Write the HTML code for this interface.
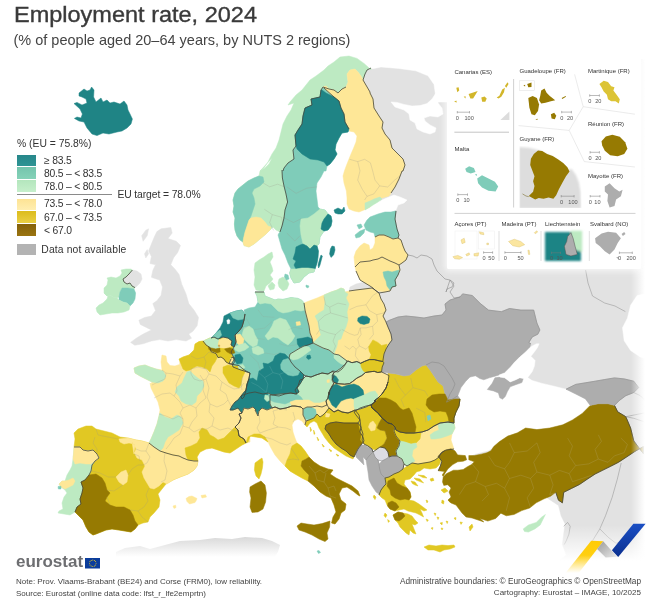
<!DOCTYPE html>
<html><head><meta charset="utf-8">
<style>
html,body{margin:0;padding:0;background:#fff;}
body{width:650px;height:606px;overflow:hidden;position:relative;font-family:"Liberation Sans",sans-serif;color:#333;}
#map{position:absolute;left:0;top:0;width:650px;height:606px;}
.t{position:absolute;white-space:nowrap;line-height:1;}
#title{left:13.5px;top:4.8px;font-size:21.5px;color:#3a3a3a;transform:scaleX(1.093);transform-origin:0 0;-webkit-text-stroke:0.35px #3a3a3a;}
#sub{left:13.5px;top:33.4px;font-size:14.5px;color:#444;}
.lg{font-size:10.35px;color:#333;}
.sw{position:absolute;left:17px;width:19.4px;height:11.5px;}
.ft{font-size:8px;color:#444;}
.ft2{font-size:8.25px;color:#444;}
#es{left:15.5px;top:553.2px;font-size:16.3px;font-weight:bold;color:#6d6e71;transform:scaleX(1.045);transform-origin:0 0;}
</style></head><body>
<svg id="map" viewBox="0 0 650 606" width="650" height="606">
<!--MAP-->
<path d="M161.1,228.8 170.8,227.5 172.2,233.0 168.0,238.5 176.3,241.3 180.5,245.5 177.7,252.4 173.5,257.9 170.8,264.8 174.9,269.0 179.1,274.5 181.8,284.2 186.0,293.9 188.8,303.6 194.3,310.5 198.5,317.5 197.1,325.8 192.9,331.3 188.8,334.1 191.5,338.2 186.0,341.0 176.3,339.6 168.0,341.0 159.7,339.6 151.4,341.0 143.1,343.8 134.8,345.2 130.6,342.4 136.2,338.2 143.1,334.1 151.4,329.9 145.8,327.2 140.3,324.4 138.9,320.2 144.5,317.5 151.4,316.1 155.5,310.5 152.8,303.6 156.9,300.8 161.1,295.3 162.5,287.0 159.7,280.1 155.5,278.7 151.4,277.3 152.8,270.4 155.5,264.8 150.0,263.5 151.4,256.5 148.6,251.0 151.4,244.1 154.2,237.2 156.9,231.6Z" fill="#e2e2e2" stroke="#e2e2e2" stroke-width="0.5" stroke-linejoin="round"/>
<path d="M144.5,253.8 147.2,249.6 148.6,253.8 145.8,257.9Z" fill="#e2e2e2" stroke="#e2e2e2" stroke-width="0.5" stroke-linejoin="round"/>
<path d="M141.7,235.8 145.8,230.2 148.6,228.8 147.2,235.8 143.1,241.3Z" fill="#e2e2e2" stroke="#e2e2e2" stroke-width="0.5" stroke-linejoin="round"/>
<path d="M132.4,270.0 137.0,271.0 141.0,274.0 142.0,279.0 140.0,283.0 136.0,287.0 135.0,287.6 132.0,286.0 130.0,283.0 127.0,284.0 124.0,282.0 123.0,279.0 126.0,277.0 129.0,274.0Z" fill="#e2e2e2" stroke="#e2e2e2" stroke-width="0.5" stroke-linejoin="round"/>
<path d="M349.0,291.0 350.0,287.0 356.0,284.0 364.0,282.0 370.0,282.0 372.0,288.0 364.0,289.0 356.0,290.0Z" fill="#e2e2e2" stroke="#e2e2e2" stroke-width="0.5" stroke-linejoin="round"/>
<path d="M373.0,452.0 377.0,449.0 380.0,447.0 385.0,448.0 388.0,452.0 389.0,457.0 386.0,459.0 382.0,461.0 378.0,460.0 375.0,457.0Z" fill="#dcdce2" stroke="#dcdce2" stroke-width="0.5" stroke-linejoin="round"/>
<path d="M362.0,72.0 364.0,65.0 436.0,65.0 447.0,60.0 650.0,58.0 650.0,560.0 560.0,560.0 566.3,555.1 562.4,544.6 563.7,534.2 565.0,523.7 561.1,515.8 558.5,505.4 520.0,480.0 440.0,440.0 385.0,345.0 378.0,300.0 380.0,200.0Z" fill="#e2e2e2" stroke="#e2e2e2" stroke-width="0.5" stroke-linejoin="round"/>
<defs><linearGradient id="gaf" gradientUnits="userSpaceOnUse" x1="0" y1="537" x2="0" y2="557"><stop offset="0" stop-color="#d9d9d9"/><stop offset="1" stop-color="#ffffff"/></linearGradient></defs>
<path d="M116.0,552.0 125.0,548.0 140.0,546.0 150.0,549.0 165.0,545.0 180.0,541.0 200.0,540.0 215.0,538.0 232.0,539.0 245.0,537.0 262.0,538.0 272.0,541.0 280.0,545.0 278.0,552.0 274.0,558.0 116.0,558.0Z" fill="url(#gaf)"/>
<path d="M391.0,102.0 395.0,107.0 404.0,110.0 409.0,114.0 410.0,120.0 415.0,123.0 417.0,129.0 423.0,132.0 430.0,134.0 435.0,132.0 436.0,128.0 430.0,125.0 425.0,121.0 424.0,118.0 430.0,116.0 438.0,117.0 443.0,114.0 442.0,108.0 438.0,103.0 439.0,97.0 443.0,90.0 447.0,87.0 447.0,80.0 444.4,70.0 440.4,59.0 435.6,59.0 439.0,66.0 441.6,76.0 440.0,86.0 436.0,93.0 432.0,99.0 427.0,103.6 420.0,105.6 412.0,106.0 404.0,104.4 397.0,102.4Z" fill="#ffffff" stroke="#ffffff" stroke-width="0.5" stroke-linejoin="round"/>
<path d="M362.0,211.0 370.0,208.0 376.0,204.0 382.0,200.0 389.0,197.0 394.0,195.0 400.0,197.0 407.0,200.0 404.0,203.0 398.0,205.0 396.0,210.0 391.0,212.0 385.0,212.0 378.0,214.0 370.0,217.0 362.0,221.0Z" fill="#ffffff" stroke="#ffffff" stroke-width="0.5" stroke-linejoin="round"/>
<path d="M461.0,387.6 465.8,381.2 470.7,376.3 483.6,377.0 499.8,373.1 514.3,373.1 525.6,376.3 532.1,380.5 542.1,383.4 553.1,386.0 566.0,389.2 575.7,394.1 585.4,398.9 590.2,405.4 582.2,413.5 572.5,419.9 562.8,424.8 549.8,428.0 536.9,429.6 525.6,428.0 517.5,432.8 507.8,436.1 498.2,444.2 488.5,450.6 475.5,453.8 464.2,458.7 452.9,450.6 446.5,436.1 448.1,423.2 451.3,411.8 452.9,398.9 452.9,389.2Z" fill="#ffffff" stroke="#ffffff" stroke-width="0.5" stroke-linejoin="round"/>
<path d="M659.7,290.7 637.1,295.5 630.6,305.2 627.4,318.2 622.5,327.8 624.2,340.8 630.6,350.5 640.3,356.9 659.7,363.4Z" fill="#ffffff" stroke="#ffffff" stroke-width="0.5" stroke-linejoin="round"/>
<path d="M362.0,50.0 362.0,70.0 366.0,69.3 374.0,68.4 381.0,67.0 398.5,68.4 415.7,70.8 428.0,75.8 434.0,84.4 435.4,94.0 432.0,102.0 447.0,102.0 447.0,59.0 650.0,59.0 650.0,50.0Z" fill="#ffffff" stroke="#ffffff" stroke-width="0.5" stroke-linejoin="round"/>
<path d="M203.7,340.8 210.0,337.9 216.9,338.5 223.9,337.9 229.7,339.1 233.1,342.0 232.2,345.4 234.0,349.5 235.2,352.9 233.4,355.8 234.0,357.6 231.0,359.3 230.6,363.3 228.5,363.3 225.0,360.4 221.0,358.1 217.5,356.4 215.8,352.4 212.3,351.2 208.9,349.5 206.6,344.9Z" fill="#e1c823" stroke="#e1c823" stroke-width="0.5" stroke-linejoin="round"/>
<path d="M230.8,359.3 234.0,357.6 235.7,361.0 234.0,364.5 231.0,363.7Z" fill="#fee797" stroke="#fee797" stroke-width="0.5" stroke-linejoin="round"/>
<path d="M79.0,93.0 84.0,89.0 87.0,91.0 90.0,90.0 91.6,87.0 94.0,90.0 93.6,97.0 96.0,102.0 101.0,98.0 103.0,102.0 107.0,100.0 110.0,103.0 114.0,102.0 120.0,104.0 124.0,101.0 127.0,105.0 128.0,110.0 130.0,114.0 132.4,119.0 131.0,124.0 127.0,128.0 122.0,131.0 117.0,132.0 109.0,134.0 103.0,133.0 97.0,135.6 92.0,134.0 87.0,128.0 84.0,122.0 79.0,121.0 74.4,118.4 77.0,117.0 81.0,118.0 82.4,114.0 80.0,109.0 74.0,103.6 77.0,102.4 82.0,105.0 87.0,103.0 86.0,99.0 82.0,97.0 79.0,96.0Z" fill="#1f8485" stroke="#1f8485" stroke-width="0.5" stroke-linejoin="round"/>
<path d="M371.0,70.0 368.0,67.0 364.0,63.4 357.0,58.4 349.0,56.0 340.0,57.0 334.0,62.0 328.0,66.0 324.0,70.0 320.0,73.0 316.0,76.0 310.0,80.0 306.0,85.0 302.0,90.0 296.0,95.0 290.0,102.0 288.0,105.0 294.0,103.0 291.0,110.0 287.0,116.0 283.0,124.0 281.0,132.0 279.0,140.0 276.0,148.0 272.0,154.0 268.0,162.0 264.0,168.0 260.0,171.0 272.0,158.0 269.0,164.0 265.0,168.0 260.0,171.0 259.0,176.0 254.0,178.0 248.0,181.0 243.0,185.0 238.0,189.0 235.0,193.0 233.0,200.0 234.0,206.0 233.0,212.0 235.0,218.0 234.4,224.0 235.0,230.0 237.0,236.0 240.0,240.0 243.0,242.0 244.0,245.6 249.0,247.0 254.0,244.0 260.0,239.0 266.0,234.0 270.0,230.0 273.0,227.0 276.0,230.0 280.0,232.0 280.0,232.0 282.0,226.0 284.0,218.0 285.0,210.0 287.6,202.0 286.0,194.0 284.0,186.0 282.4,178.0 282.0,170.0 283.0,171.0 284.0,168.0 288.0,163.0 294.0,159.0 293.0,150.0 296.0,146.0 295.0,135.0 298.0,130.0 302.0,124.0 303.0,116.0 305.0,108.0 312.0,105.0 311.0,99.0 320.0,97.0 321.0,90.0 323.0,87.0 326.0,86.0 329.0,89.0 334.0,90.0 338.0,93.0 342.0,89.0 346.0,87.0 348.0,82.0 347.0,74.0 350.0,70.0 355.0,69.0 358.0,72.0 361.0,76.0 363.0,80.0 365.0,74.0 367.0,70.0 371.0,68.0Z" fill="#bdeac2" stroke="#bdeac2" stroke-width="0.5" stroke-linejoin="round"/>
<path d="M324.0,88.0 334.0,97.0 339.0,101.0 341.0,108.0 344.0,114.0 345.0,122.0 349.0,129.0 348.0,132.0 342.0,133.0 339.0,138.0 336.0,144.0 335.0,150.0 337.0,154.0 334.0,159.0 330.0,164.0 327.0,166.0 326.0,171.0 324.0,171.0 321.0,177.0 317.0,183.0 316.0,191.0 317.0,199.0 318.0,207.0 320.0,209.0 325.0,210.0 328.0,214.0 331.0,216.0 332.0,221.0 331.0,226.0 328.0,230.0 324.0,231.0 320.0,237.0 319.0,244.0 317.0,246.0 318.4,251.0 318.0,257.0 317.0,263.0 315.0,269.0 314.0,272.0 309.0,273.0 304.0,277.0 300.0,282.0 294.0,283.0 291.0,278.0 289.6,273.0 291.0,269.0 288.0,263.0 285.0,255.0 282.0,249.0 280.0,242.0 278.0,235.0 279.0,233.0 280.0,232.0 282.0,226.0 284.0,218.0 285.0,210.0 287.6,202.0 286.0,194.0 284.0,186.0 282.4,178.0 282.0,170.0 283.0,171.0 284.0,168.0 288.0,163.0 294.0,159.0 293.0,150.0 296.0,146.0 295.0,135.0 298.0,130.0 302.0,124.0 303.0,116.0 305.0,108.0 312.0,105.0 311.0,99.0 320.0,97.0 321.0,90.0 323.0,87.0Z" fill="#7fccb9" stroke="#7fccb9" stroke-width="0.5" stroke-linejoin="round"/>
<path d="M255.0,263.0 259.0,260.0 264.0,257.0 268.0,254.0 272.0,252.0 273.0,257.0 270.0,262.0 272.0,267.0 273.0,271.0 270.0,275.0 273.0,279.0 270.0,283.0 266.0,286.0 264.0,291.0 260.0,291.0 256.0,290.0 254.0,285.0 255.0,277.0 254.0,270.0Z" fill="#bdeac2" stroke="#bdeac2" stroke-width="0.5" stroke-linejoin="round"/>
<path d="M268.0,286.0 272.0,282.0 275.0,285.0 274.0,289.0 270.0,290.0Z" fill="#bdeac2" stroke="#bdeac2" stroke-width="0.5" stroke-linejoin="round"/>
<path d="M279.0,279.0 283.0,277.0 287.0,280.0 289.0,284.0 287.0,289.0 283.0,291.0 279.0,287.0 278.0,283.0Z" fill="#bdeac2" stroke="#bdeac2" stroke-width="0.5" stroke-linejoin="round"/>
<path d="M323.0,87.0 326.0,86.0 329.0,89.0 334.0,90.0 338.0,93.0 342.0,89.0 346.0,87.0 348.0,82.0 347.0,74.0 350.0,70.0 355.0,69.0 358.0,72.0 361.0,76.0 363.0,80.0 370.0,92.0 370.0,93.0 373.0,99.0 374.0,108.0 379.0,116.0 383.0,122.0 382.0,128.0 385.0,134.0 390.0,140.0 392.0,148.0 398.0,154.0 403.0,159.0 405.0,165.0 403.0,171.0 402.0,171.0 399.0,179.0 395.0,187.0 391.0,193.0 389.0,196.0 382.0,198.0 376.0,200.0 370.0,207.0 370.0,207.0 364.0,210.0 359.0,212.0 354.0,211.0 349.0,209.0 347.0,204.0 347.0,198.0 346.4,191.0 344.0,183.0 343.0,176.0 344.4,171.0 344.4,171.0 346.6,165.0 349.0,159.0 351.0,154.0 353.6,148.0 356.0,142.0 357.0,136.0 354.0,132.0 349.0,131.0 349.0,129.0 345.0,122.0 344.0,114.0 341.0,108.0 339.0,101.0 334.0,97.0 324.0,88.0Z" fill="#fee797" stroke="#fee797" stroke-width="0.5" stroke-linejoin="round"/>
<path d="M370.0,217.0 378.0,214.0 385.0,212.0 391.0,212.0 396.0,211.0 395.0,219.0 397.0,229.0 399.0,235.0 398.0,238.0 393.0,239.0 389.0,237.0 384.0,235.0 379.0,235.0 375.0,237.0 374.0,233.0 370.0,232.0 366.0,230.0 364.0,225.0 367.0,220.0Z" fill="#7fccb9" stroke="#7fccb9" stroke-width="0.5" stroke-linejoin="round"/>
<path d="M357.0,225.0 361.0,224.0 362.4,227.0 359.0,229.0Z" fill="#7fccb9" stroke="#7fccb9" stroke-width="0.5" stroke-linejoin="round"/>
<path d="M355.0,235.0 360.0,231.0 365.0,229.0 364.0,233.0 360.0,237.0 356.0,238.0Z" fill="#7fccb9" stroke="#7fccb9" stroke-width="0.5" stroke-linejoin="round"/>
<path d="M375.0,237.0 379.0,235.0 384.0,235.0 389.0,237.0 393.0,239.0 398.0,238.0 401.0,240.0 403.0,246.0 405.0,251.0 408.0,255.0 406.0,260.0 402.0,263.0 399.0,265.0 395.0,263.0 390.0,261.0 386.0,259.0 382.0,257.0 378.0,259.0 373.0,260.0 370.0,261.0 360.0,262.0 355.0,267.0 354.0,257.0 356.0,251.0 360.0,246.0 364.0,243.0 369.0,245.0 370.0,250.0 373.0,248.0 375.0,243.0Z" fill="#fee797" stroke="#fee797" stroke-width="0.5" stroke-linejoin="round"/>
<path d="M370.0,261.0 373.0,260.0 378.0,259.0 382.0,257.0 386.0,259.0 390.0,261.0 395.0,263.0 399.0,265.0 400.0,270.0 398.0,275.0 395.0,280.0 396.0,286.0 392.0,287.0 390.0,291.0 385.0,292.0 378.0,291.0 370.0,286.0 360.0,280.0 356.0,271.0 355.0,267.0 360.0,262.0Z" fill="#fee797" stroke="#fee797" stroke-width="0.5" stroke-linejoin="round"/>
<path d="M121.0,270.0 126.0,269.0 131.0,269.0 132.4,270.0 129.0,274.0 126.0,277.0 123.0,279.0 124.0,282.0 127.0,284.0 130.0,283.0 132.0,286.0 135.0,287.6 134.0,289.0 128.0,288.0 122.0,288.0 120.0,292.0 119.0,297.0 117.0,298.0 113.0,297.0 110.0,295.0 107.0,296.0 104.0,293.0 104.0,288.0 107.0,285.0 108.0,280.0 107.0,278.0 111.0,277.0 116.0,278.0 120.0,276.0 122.0,273.0Z" fill="#bdeac2" stroke="#bdeac2" stroke-width="0.5" stroke-linejoin="round"/>
<path d="M122.0,288.0 128.0,288.0 134.0,289.0 135.6,293.0 135.0,299.0 133.0,303.0 130.0,306.0 127.0,303.0 123.0,302.0 119.0,300.0 119.0,297.0 120.0,292.0Z" fill="#7fccb9" stroke="#7fccb9" stroke-width="0.5" stroke-linejoin="round"/>
<path d="M104.0,293.0 107.0,296.0 110.0,295.0 113.0,297.0 117.0,298.0 119.0,300.0 123.0,302.0 127.0,303.0 130.0,306.0 129.0,310.0 124.0,312.0 118.0,313.0 112.0,313.0 106.0,314.0 100.0,315.0 97.0,312.0 96.0,308.0 99.0,305.0 103.0,303.0 107.0,299.0 108.0,296.0Z" fill="#bdeac2" stroke="#bdeac2" stroke-width="0.5" stroke-linejoin="round"/>
<path d="M203.0,341.0 206.0,345.0 210.0,347.6 211.0,351.6 216.0,353.6 218.0,357.6 221.0,357.0 224.0,359.0 226.0,362.0 229.0,363.6 233.0,364.4 239.0,365.6 243.0,369.0 246.0,371.0 250.0,373.0 249.0,378.0 247.0,385.0 245.6,392.0 244.0,397.0 242.0,399.0 241.0,396.0 238.0,400.0 235.0,402.0 232.0,406.0 230.0,410.0 233.0,410.0 238.0,408.0 242.0,413.0 239.0,414.0 241.0,418.0 239.0,423.0 235.0,427.0 238.0,430.0 239.0,436.0 244.0,439.0 246.0,443.0 242.0,445.0 236.0,449.0 230.0,453.0 224.0,452.0 218.0,450.0 212.0,448.0 206.0,449.0 200.0,452.0 197.0,457.0 198.0,461.0 194.0,461.0 188.0,460.0 183.0,458.0 179.0,456.0 173.0,455.0 166.0,453.0 160.0,451.0 154.0,447.0 149.0,443.0 151.0,439.0 154.0,432.0 157.0,424.0 159.0,416.0 160.0,410.0 158.0,402.0 154.0,394.0 151.0,388.0 150.0,383.0 151.0,384.0 152.0,382.0 146.0,379.0 140.0,376.0 135.0,373.0 134.0,368.0 139.0,366.0 145.0,365.0 150.0,367.0 156.0,369.0 162.0,370.0 161.0,362.0 162.0,355.0 166.0,356.0 167.0,362.0 170.0,365.6 175.0,366.0 179.6,364.4 180.0,359.0 183.0,357.0 189.0,355.0 194.0,350.0 195.0,344.0 199.0,341.6Z" fill="#fee797" stroke="#fee797" stroke-width="0.5" stroke-linejoin="round"/>
<path d="M255.0,463.0 259.0,460.0 262.0,458.0 263.0,462.0 262.4,468.0 261.0,474.0 259.0,479.0 256.0,476.0 254.4,470.0Z" fill="#e1c823" stroke="#e1c823" stroke-width="0.5" stroke-linejoin="round"/>
<path d="M203.7,340.8 210.0,337.9 216.9,338.5 219.3,339.7 218.1,344.3 219.8,347.7 215.8,348.9 210.0,347.7 206.6,344.9Z" fill="#bdeac2" stroke="#bdeac2" stroke-width="0.5" stroke-linejoin="round"/>
<path d="M219.3,339.7 223.9,337.9 229.7,339.1 233.1,342.0 232.0,345.4 229.7,347.7 225.0,348.3 219.8,347.7 218.1,344.3Z" fill="#fee797" stroke="#fee797" stroke-width="0.5" stroke-linejoin="round"/>
<path d="M219.0,349.0 225.0,349.0 226.0,352.0 229.0,354.0 231.0,359.0 229.0,363.6 226.0,362.0 224.0,359.0 221.0,357.0 218.0,357.6 217.0,354.4 220.0,352.0Z" fill="#e1c823" stroke="#e1c823" stroke-width="0.5" stroke-linejoin="round"/>
<path d="M231.0,358.0 234.0,357.0 235.0,361.0 233.0,364.4 229.0,363.6Z" fill="#fee797" stroke="#fee797" stroke-width="0.5" stroke-linejoin="round"/>
<path d="M224.0,316.0 230.0,313.0 236.0,311.0 242.0,310.0 245.0,314.0 244.0,320.0 242.0,327.0 239.0,331.0 235.0,335.0 236.0,342.0 234.0,347.0 231.0,345.0 232.0,341.0 228.0,338.0 223.0,337.0 218.0,339.0 214.0,337.0 211.0,338.0 216.0,333.0 220.0,328.0 223.0,322.0Z" fill="#1f8485" stroke="#1f8485" stroke-width="0.5" stroke-linejoin="round"/>
<path d="M255.0,292.0 264.0,292.0 265.0,296.0 270.0,298.0 275.0,300.0 278.0,299.0 283.0,299.4 291.0,297.6 298.0,298.4 302.0,300.4 304.0,303.0 305.0,310.0 307.0,318.0 309.0,326.0 310.0,333.0 312.0,338.0 313.0,343.0 308.0,345.0 304.0,346.0 300.0,348.0 295.0,351.0 290.0,354.0 289.0,358.0 291.0,362.0 295.0,367.0 300.0,371.0 304.0,375.0 303.0,379.0 300.0,384.0 297.0,388.0 299.0,392.0 296.0,394.0 291.0,393.0 285.0,394.0 279.0,396.0 272.0,395.0 268.0,393.0 263.0,394.0 255.0,392.0 249.0,393.0 243.0,395.0 241.0,396.0 246.0,390.0 247.0,384.0 249.0,379.0 250.0,373.0 244.0,371.0 238.0,369.0 233.0,367.0 232.0,363.0 234.0,360.0 233.0,356.0 231.0,352.0 234.0,347.0 236.0,342.0 235.0,335.0 239.0,331.0 242.0,327.0 244.0,320.0 245.0,314.0 244.0,310.0 249.0,308.0 255.0,307.0 258.0,302.0 257.0,296.0Z" fill="#7fccb9" stroke="#7fccb9" stroke-width="0.5" stroke-linejoin="round"/>
<path d="M230.0,410.0 232.0,406.0 235.0,402.0 238.0,400.0 241.0,396.0 241.0,396.0 243.0,395.0 249.0,393.0 255.0,392.0 263.0,394.0 268.0,393.0 270.0,394.4 270.4,400.0 272.4,404.0 272.0,408.0 267.0,410.0 262.0,408.0 259.0,411.0 258.0,416.0 255.0,410.0 250.0,408.0 256.0,410.0 253.0,407.0 248.0,409.0 244.0,408.0 242.0,413.0 238.0,408.0 233.0,410.0Z" fill="#1f8485" stroke="#1f8485" stroke-width="0.5" stroke-linejoin="round"/>
<path d="M290.0,354.0 295.0,351.0 300.0,348.0 304.0,346.0 308.0,345.0 313.0,343.0 317.0,345.0 323.0,348.0 329.0,350.0 334.0,354.0 339.0,355.0 343.0,358.0 347.0,361.0 345.0,365.0 342.0,369.0 338.0,372.0 333.0,371.0 328.0,374.0 322.0,373.0 316.0,375.0 311.0,377.0 306.0,376.0 304.0,375.0 300.0,371.0 295.0,367.0 291.0,362.0 289.0,358.0Z" fill="#7fccb9" stroke="#7fccb9" stroke-width="0.5" stroke-linejoin="round"/>
<path d="M304.0,303.0 309.0,301.0 317.0,298.0 324.0,295.0 331.0,292.0 337.0,290.0 341.0,288.0 344.0,289.0 345.0,292.0 349.0,291.0 356.0,290.0 364.0,289.0 372.0,288.0 375.0,290.0 379.0,293.0 381.0,299.0 384.0,304.0 386.0,310.0 383.0,316.0 386.0,322.0 388.0,327.0 391.0,334.0 392.0,340.0 389.0,344.0 386.0,349.0 384.0,354.0 383.0,360.0 382.8,361.5 379.1,360.8 374.2,359.6 369.2,359.6 364.3,361.5 360.6,363.3 356.9,361.5 352.0,362.7 348.1,361.1 347.0,361.0 343.0,358.0 339.0,355.0 334.0,354.0 329.0,350.0 323.0,348.0 317.0,345.0 313.0,343.0 312.0,338.0 310.0,333.0 309.0,326.0 307.0,318.0 305.0,310.0Z" fill="#fee797" stroke="#fee797" stroke-width="0.5" stroke-linejoin="round"/>
<path d="M270.0,395.0 280.0,394.0 290.0,393.0 297.0,394.0 295.0,390.0 298.0,386.0 300.0,380.0 303.0,379.0 306.0,376.0 311.0,377.0 316.0,375.0 322.0,373.0 328.0,374.0 333.0,371.0 334.0,376.0 332.0,380.0 334.0,384.0 330.0,390.0 329.0,395.0 329.0,392.0 328.0,398.0 326.0,401.0 327.0,405.0 322.0,407.0 317.0,406.0 312.0,407.0 307.0,407.0 303.0,409.0 301.0,407.0 295.0,406.0 292.0,406.0 286.0,408.0 280.0,409.0 275.0,407.0 272.0,408.0 270.0,404.0 270.0,400.0Z" fill="#bdeac2" stroke="#bdeac2" stroke-width="0.5" stroke-linejoin="round"/>
<path d="M348.1,361.1 352.0,362.7 356.9,361.5 360.6,363.3 364.3,361.5 369.2,359.6 374.2,359.6 379.1,360.8 382.8,361.5 384.0,362.7 382.2,367.0 381.5,371.9 377.8,372.5 374.2,371.3 369.2,371.9 365.5,372.5 361.8,375.6 356.9,378.1 352.6,381.5 349.5,383.6 344.6,384.2 337.2,383.6 334.2,382.4 332.3,379.3 332.3,375.0 333.5,373.2 337.2,370.7 340.9,368.2 344.6,364.5Z" fill="#bdeac2" stroke="#bdeac2" stroke-width="0.5" stroke-linejoin="round"/>
<path d="M327.0,405.0 326.0,401.0 328.0,398.0 329.0,392.0 332.0,386.0 334.2,382.4 337.2,383.6 344.6,384.2 349.5,383.6 352.6,381.5 356.9,378.1 361.8,375.6 365.5,372.5 369.2,371.9 374.2,371.3 377.8,372.5 381.5,371.9 389.0,375.5 388.0,382.0 386.0,388.0 382.0,394.0 378.0,398.0 374.0,401.0 376.0,401.0 371.0,405.0 372.0,404.0 366.0,407.0 360.0,409.0 355.0,410.0 353.0,411.0 348.0,413.0 342.0,412.0 338.0,410.0 334.0,412.0 329.0,408.0Z" fill="#fee797" stroke="#fee797" stroke-width="0.5" stroke-linejoin="round"/>
<path d="M303.0,409.0 307.0,407.0 312.0,407.0 316.0,409.0 317.0,414.0 314.0,418.0 309.0,420.0 305.0,419.0 303.0,415.0Z" fill="#7fccb9" stroke="#7fccb9" stroke-width="0.5" stroke-linejoin="round"/>
<path d="M312.0,407.0 317.0,406.0 322.0,407.0 327.0,405.0 329.0,408.0 326.0,412.0 323.0,415.0 320.0,417.0 317.0,414.0 316.0,409.0Z" fill="#fee797" stroke="#fee797" stroke-width="0.5" stroke-linejoin="round"/>
<path d="M329.0,408.0 334.0,412.0 338.0,410.0 342.0,412.0 348.0,413.0 353.0,411.0 355.0,410.0 359.0,415.0 360.0,420.0 358.0,423.0 352.0,423.0 344.0,423.0 336.0,422.0 330.0,423.0 326.0,425.0 325.0,429.0 329.0,434.0 332.0,439.0 336.0,444.0 341.0,448.0 346.0,451.0 350.0,455.0 354.0,457.0 353.0,459.0 346.0,456.0 340.0,452.0 334.0,448.0 329.0,443.0 325.0,438.0 322.0,433.0 319.0,428.0 317.0,423.0 314.0,421.0 310.0,423.0 307.0,427.0 305.0,425.0 306.0,421.0 309.0,420.0 314.0,418.0 317.0,414.0 320.0,417.0 323.0,415.0 326.0,412.0Z" fill="#e1c823" stroke="#e1c823" stroke-width="0.5" stroke-linejoin="round"/>
<path d="M326.0,425.0 330.0,423.0 336.0,422.0 344.0,423.0 352.0,423.0 358.0,423.0 361.0,427.0 360.0,432.0 363.0,437.0 364.0,441.0 361.0,445.0 358.0,449.0 356.0,453.0 354.0,457.0 350.0,455.0 346.0,451.0 341.0,448.0 336.0,444.0 332.0,439.0 329.0,434.0 325.0,429.0Z" fill="#967a02" stroke="#967a02" stroke-width="0.5" stroke-linejoin="round"/>
<path d="M360.0,408.0 366.0,406.0 371.0,405.0 372.0,408.0 378.0,413.0 382.0,418.0 379.0,423.0 377.0,428.0 380.0,430.0 385.0,431.0 387.0,438.0 384.0,444.0 380.0,447.0 376.0,450.0 372.0,449.0 368.0,446.0 364.0,444.0 360.6,440.0 361.6,434.0 359.6,428.0 358.4,420.0 354.4,415.0 352.4,412.0Z" fill="#e1c823" stroke="#e1c823" stroke-width="0.5" stroke-linejoin="round"/>
<path d="M379.0,423.0 382.0,418.0 388.0,423.0 392.0,424.0 395.0,427.0 394.0,431.0 396.0,436.0 400.0,441.0 399.0,446.0 396.0,451.0 397.0,456.0 392.0,456.0 389.0,457.0 388.0,452.0 385.0,448.0 380.0,447.0 384.0,444.0 387.0,438.0 385.0,431.0 380.0,430.0 377.0,428.0Z" fill="#967a02" stroke="#967a02" stroke-width="0.5" stroke-linejoin="round"/>
<path d="M358.0,449.0 361.0,445.0 365.0,445.0 369.0,448.0 368.0,446.0 372.0,449.0 373.0,452.0 369.0,456.0 366.0,460.0 363.0,457.0 364.0,465.0 360.0,461.0 356.0,457.0 356.0,453.0Z" fill="#adadad" stroke="#adadad" stroke-width="0.5" stroke-linejoin="round"/>
<path d="M366.0,460.0 369.0,456.0 373.0,452.0 375.0,457.0 378.0,460.0 379.0,464.0 379.6,469.0 381.0,474.0 385.0,478.0 386.0,484.0 384.0,490.0 380.0,495.0 376.0,492.0 372.0,486.0 369.0,480.0 368.0,472.0 367.0,466.0Z" fill="#adadad" stroke="#adadad" stroke-width="0.5" stroke-linejoin="round"/>
<path d="M379.0,464.0 382.0,461.0 386.0,459.0 389.0,457.0 392.0,456.0 397.0,456.0 402.0,459.0 404.0,464.0 403.0,469.0 399.0,472.0 394.0,474.0 389.0,477.0 385.0,478.0 381.0,474.0 379.6,469.0Z" fill="#adadad" stroke="#adadad" stroke-width="0.5" stroke-linejoin="round"/>
<path d="M246.0,443.0 244.0,439.0 239.0,436.0 238.0,430.0 235.0,427.0 239.0,423.0 241.0,418.0 239.0,414.0 242.0,413.0 244.0,408.0 248.0,409.0 253.0,407.0 256.0,410.0 255.0,410.0 258.0,416.0 259.0,411.0 262.0,408.0 267.0,410.0 272.0,408.0 275.0,407.0 280.0,409.0 286.0,408.0 292.0,406.0 295.0,406.0 301.0,407.0 303.0,409.0 303.0,415.0 305.0,419.0 306.0,421.0 305.0,425.0 302.0,421.0 298.0,419.0 294.0,421.0 292.0,425.0 293.0,432.0 295.0,438.0 297.0,443.0 301.0,446.0 305.0,451.0 309.0,457.0 314.0,462.0 320.0,466.0 328.0,469.0 333.0,470.0 330.0,474.0 336.0,478.0 344.0,482.0 352.0,486.0 358.0,491.0 360.0,496.0 358.0,495.0 353.0,491.0 347.0,487.0 342.0,488.0 339.0,494.0 341.0,500.0 346.0,504.0 345.0,510.0 341.0,513.0 339.0,519.0 335.0,524.0 331.6,523.0 333.0,517.0 336.0,512.0 334.0,505.0 331.0,498.0 326.0,496.0 320.0,492.0 314.0,486.0 308.0,481.0 302.0,478.0 295.0,474.0 290.0,471.0 285.0,466.0 280.0,461.0 275.0,455.0 271.0,448.0 268.0,442.0 262.0,438.0 256.0,437.0 250.0,436.0 250.0,442.0Z" fill="#fee797" stroke="#fee797" stroke-width="0.5" stroke-linejoin="round"/>
<path d="M250.0,487.0 255.0,484.0 261.0,481.0 265.0,485.0 266.4,493.0 265.6,502.0 263.0,509.0 258.0,512.0 252.0,512.4 250.0,507.0 251.0,498.0 249.6,492.0Z" fill="#967a02" stroke="#967a02" stroke-width="0.5" stroke-linejoin="round"/>
<path d="M297.0,526.0 301.0,523.0 307.0,524.0 314.0,525.0 322.0,523.6 330.0,521.0 329.6,527.0 327.0,533.0 328.0,539.0 325.0,541.6 319.0,539.0 312.0,535.0 305.0,532.0 299.0,530.0Z" fill="#967a02" stroke="#967a02" stroke-width="0.5" stroke-linejoin="round"/>
<path d="M74.0,433.0 78.0,429.0 86.0,426.0 92.0,426.0 96.0,429.0 104.0,431.0 112.0,433.0 120.0,437.0 128.0,438.0 136.0,440.0 142.0,441.0 149.0,443.0 154.0,447.0 160.0,451.0 166.0,453.0 173.0,455.0 179.0,456.0 183.0,458.0 188.0,460.0 194.0,461.0 198.0,461.0 197.0,466.0 194.0,470.0 188.0,474.0 180.0,477.0 173.0,480.0 166.0,484.0 162.0,489.0 158.0,494.0 160.0,500.0 159.0,507.0 154.0,513.0 150.0,517.0 148.0,522.0 143.0,523.0 138.0,525.0 135.0,529.0 131.0,532.0 125.0,531.0 119.0,530.0 112.0,529.0 106.0,530.0 101.0,532.0 96.0,534.0 93.0,535.0 89.0,532.0 86.0,527.0 83.0,520.0 78.0,515.0 75.0,512.0 77.0,507.0 81.0,504.0 80.0,499.0 82.0,493.0 83.0,488.0 81.0,482.0 85.0,480.0 89.0,475.0 91.0,471.0 92.0,465.0 95.0,461.0 99.0,458.0 97.0,454.0 93.0,450.0 88.0,451.0 83.0,450.0 80.0,447.0 74.0,447.0 75.0,439.0Z" fill="#e1c823" stroke="#e1c823" stroke-width="0.5" stroke-linejoin="round"/>
<path d="M186.0,498.5 189.0,496.5 192.0,496.0 197.0,498.5 196.0,501.0 195.0,502.5 189.5,504.0 187.0,501.5Z" fill="#fee797" stroke="#fee797" stroke-width="0.5" stroke-linejoin="round"/>
<path d="M201.0,495.5 205.5,494.8 206.5,497.0 202.0,498.0Z" fill="#fee797" stroke="#fee797" stroke-width="0.5" stroke-linejoin="round"/>
<path d="M173.0,506.0 175.6,505.2 176.0,507.6 174.0,508.4Z" fill="#fee797" stroke="#fee797" stroke-width="0.5" stroke-linejoin="round"/>
<path d="M74.0,447.0 80.0,447.0 83.0,450.0 88.0,451.0 93.0,450.0 97.0,454.0 99.0,458.0 95.0,461.0 92.0,465.0 91.0,471.0 89.0,475.0 85.0,480.0 81.0,482.0 83.0,488.0 82.0,493.0 80.0,499.0 81.0,504.0 77.0,507.0 75.0,512.0 70.0,515.0 64.0,514.0 58.0,513.0 59.0,511.0 63.0,509.0 62.0,503.0 64.0,497.0 67.0,493.0 65.0,490.0 61.0,487.0 59.0,484.0 62.0,481.0 65.0,481.0 67.0,475.0 70.0,470.0 72.0,466.0 73.0,459.0 73.6,453.0Z" fill="#bdeac2" stroke="#bdeac2" stroke-width="0.5" stroke-linejoin="round"/>
<path d="M388.4,379.0 388.0,373.0 396.0,374.0 404.0,376.0 410.0,375.0 416.0,370.0 422.0,366.0 426.0,365.0 430.0,370.0 434.0,376.0 438.0,382.0 443.0,386.0 445.0,394.0 448.0,400.0 455.0,399.0 460.0,399.0 459.0,406.0 456.0,412.0 454.0,418.0 454.0,423.0 448.0,422.0 440.0,423.0 434.0,426.0 428.0,430.0 422.0,432.0 414.0,433.0 406.0,433.0 400.0,432.0 396.0,430.0 395.0,427.0 392.0,424.0 388.0,423.0 382.0,418.0 378.0,413.0 372.0,408.0 371.0,405.0 376.0,401.0 374.0,401.0 378.0,398.0 382.0,394.0 386.0,388.0 388.0,382.0Z" fill="#e1c823" stroke="#e1c823" stroke-width="0.5" stroke-linejoin="round"/>
<path d="M395.0,427.0 396.0,430.0 400.0,432.0 406.0,433.0 414.0,433.0 422.0,432.0 428.0,430.0 434.0,426.0 440.0,423.0 448.0,422.0 454.0,423.0 455.0,428.0 452.0,434.0 451.0,440.0 453.0,446.0 454.0,449.0 446.0,450.0 441.0,453.0 439.0,457.0 435.0,460.0 430.0,462.0 424.0,463.0 418.0,464.0 412.0,463.0 407.0,466.0 404.0,464.0 402.0,459.0 397.0,456.0 396.0,451.0 399.0,446.0 400.0,441.0 396.0,436.0 394.0,431.0Z" fill="#fee797" stroke="#fee797" stroke-width="0.5" stroke-linejoin="round"/>
<path d="M385.0,478.0 389.0,477.0 394.0,474.0 399.0,472.0 403.0,469.0 407.0,466.0 412.0,463.0 418.0,464.0 424.0,463.0 430.0,462.0 435.0,460.0 439.0,457.0 441.0,461.0 439.0,465.0 436.0,468.0 430.0,469.0 424.0,468.0 420.0,471.0 415.0,472.0 410.0,474.0 418.0,470.0 414.0,475.0 410.0,479.0 405.0,480.0 404.0,484.0 407.0,488.0 410.0,492.0 411.0,497.0 409.0,500.0 414.0,501.0 419.0,504.0 423.0,507.0 427.0,510.0 424.0,511.0 420.0,509.0 422.0,513.0 423.6,517.0 420.0,515.0 416.0,513.0 412.0,512.0 408.0,511.0 404.0,509.0 399.0,510.0 395.0,511.0 390.0,509.0 387.0,505.0 385.0,500.0 382.0,498.0 379.0,495.0 381.0,490.0 384.0,486.0 386.0,484.0Z" fill="#e1c823" stroke="#e1c823" stroke-width="0.5" stroke-linejoin="round"/>
<path d="M411.0,481.0 415.0,482.0 418.0,486.0 415.0,485.0 412.4,483.6Z" fill="#e1c823" stroke="#e1c823" stroke-width="0.5" stroke-linejoin="round"/>
<path d="M414.0,478.0 420.0,479.0 423.6,483.0 420.0,481.6 416.0,480.0Z" fill="#e1c823" stroke="#e1c823" stroke-width="0.5" stroke-linejoin="round"/>
<path d="M418.0,475.0 424.0,475.6 427.0,478.0 423.0,477.6Z" fill="#e1c823" stroke="#e1c823" stroke-width="0.5" stroke-linejoin="round"/>
<path d="M393.0,515.0 398.0,512.0 403.0,513.0 408.0,514.0 412.0,516.0 415.0,520.0 418.0,523.0 415.0,525.0 412.0,524.0 414.0,529.0 416.0,534.0 413.0,533.0 410.0,530.0 409.0,535.0 406.0,533.0 403.0,530.0 400.0,527.0 398.0,523.0 395.0,520.0Z" fill="#e1c823" stroke="#e1c823" stroke-width="0.5" stroke-linejoin="round"/>
<path d="M424.0,547.0 429.0,545.0 436.0,546.0 442.0,545.0 448.0,545.6 454.0,545.0 455.0,547.0 450.0,549.0 444.0,550.0 440.0,552.0 434.0,550.0 428.0,550.0Z" fill="#e1c823" stroke="#e1c823" stroke-width="0.5" stroke-linejoin="round"/>
<path d="M374.0,495.0 376.0,497.0 375.0,499.6 373.2,497.0Z" fill="#e1c823" stroke="#e1c823" stroke-width="0.5" stroke-linejoin="round"/>
<path d="M385.0,513.0 387.0,515.0 385.6,517.6 384.0,515.6Z" fill="#e1c823" stroke="#e1c823" stroke-width="0.5" stroke-linejoin="round"/>
<path d="M387.6,519.6 389.6,521.0 388.4,522.4Z" fill="#e1c823" stroke="#e1c823" stroke-width="0.5" stroke-linejoin="round"/>
<path d="M441.0,490.0 445.0,488.0 448.0,491.0 444.0,493.0Z" fill="#e1c823" stroke="#e1c823" stroke-width="0.5" stroke-linejoin="round"/>
<path d="M442.0,500.0 444.0,501.0 443.6,504.0 441.6,503.0Z" fill="#e1c823" stroke="#e1c823" stroke-width="0.5" stroke-linejoin="round"/>
<path d="M448.0,500.0 451.0,500.4 450.0,502.4Z" fill="#e1c823" stroke="#e1c823" stroke-width="0.5" stroke-linejoin="round"/>
<path d="M469.0,527.0 472.0,524.0 473.0,527.0 470.0,531.0Z" fill="#e1c823" stroke="#e1c823" stroke-width="0.5" stroke-linejoin="round"/>
<path d="M430.0,479.0 433.0,478.0 434.0,480.4 431.0,481.2Z" fill="#e1c823" stroke="#e1c823" stroke-width="0.5" stroke-linejoin="round"/>
<path d="M426.0,500.0 428.0,501.0 427.0,503.0Z" fill="#e1c823" stroke="#e1c823" stroke-width="0.5" stroke-linejoin="round"/>
<path d="M437.0,517.0 439.0,517.6 438.0,519.6Z" fill="#e1c823" stroke="#e1c823" stroke-width="0.5" stroke-linejoin="round"/>
<path d="M440.0,523.0 442.4,522.4 442.0,525.0Z" fill="#e1c823" stroke="#e1c823" stroke-width="0.5" stroke-linejoin="round"/>
<path d="M446.0,521.0 448.0,521.6 447.2,523.6Z" fill="#e1c823" stroke="#e1c823" stroke-width="0.5" stroke-linejoin="round"/>
<path d="M431.0,528.0 433.0,527.6 432.4,529.6Z" fill="#e1c823" stroke="#e1c823" stroke-width="0.5" stroke-linejoin="round"/>
<path d="M441.0,528.0 443.0,528.4 442.0,530.0Z" fill="#e1c823" stroke="#e1c823" stroke-width="0.5" stroke-linejoin="round"/>
<path d="M454.0,518.0 456.0,517.6 455.6,520.0Z" fill="#e1c823" stroke="#e1c823" stroke-width="0.5" stroke-linejoin="round"/>
<path d="M460.0,522.0 462.4,522.4 461.0,524.4Z" fill="#e1c823" stroke="#e1c823" stroke-width="0.5" stroke-linejoin="round"/>
<path d="M426.0,519.0 428.4,520.0 427.2,521.6Z" fill="#e1c823" stroke="#e1c823" stroke-width="0.5" stroke-linejoin="round"/>
<path d="M434.0,513.0 436.0,513.6 435.2,515.6Z" fill="#e1c823" stroke="#e1c823" stroke-width="0.5" stroke-linejoin="round"/>
<path d="M438.3,456.3 443.8,450.8 450.8,448.7 454.9,450.8 457.7,454.9 465.3,455.6 466.7,459.8 463.2,461.2 457.7,461.8 452.8,464.6 448.0,468.8 445.2,472.9 443.2,476.4 442.2,475.0 444.5,471.5 438.3,470.8 440.4,466.0 441.8,461.2 439.7,458.4Z" fill="#967a02" stroke="#967a02" stroke-width="0.5" stroke-linejoin="round"/>
<path d="M468.8,455.6 474.3,455.6 481.2,454.2 486.8,452.8 490.9,450.8 493.7,446.6 499.2,441.8 507.8,436.1 517.5,432.8 525.6,428.0 536.9,429.6 549.8,428.0 562.8,424.8 572.5,419.9 582.2,413.5 590.2,405.4 598.3,403.8 608.0,403.8 614.5,405.4 617.7,411.8 625.8,416.7 630.6,428.0 633.8,440.9 638.7,447.4 643.5,453.8 643.5,446.5 634.3,451.8 626.5,457.0 618.6,462.2 610.8,466.2 602.9,470.1 595.1,474.0 587.2,479.2 579.4,484.5 571.5,488.4 563.7,492.3 562.4,502.8 558.5,500.2 555.8,492.3 550.6,496.2 544.1,498.8 536.2,502.8 529.7,508.0 521.8,510.6 514.0,514.5 506.2,515.8 500.9,513.2 495.7,518.5 487.8,521.1 480.0,518.5 484.0,522.0 478.0,520.0 472.0,518.0 466.0,517.0 462.0,513.0 459.0,509.0 456.0,505.0 451.0,503.0 448.0,500.0 451.0,497.0 449.0,492.0 451.0,488.0 448.0,485.0 448.0,484.7 443.8,485.4 442.5,481.9 443.2,477.1 446.6,473.6 450.8,471.5 453.5,470.2 457.7,470.2 463.2,469.5 467.4,466.7 471.5,464.6 474.3,461.8 468.8,459.8Z" fill="#967a02" stroke="#967a02" stroke-width="0.5" stroke-linejoin="round"/>
<path d="M523.2,528.9 528.4,525.0 536.2,522.4 541.5,517.2 545.4,514.5 542.8,519.8 540.2,525.0 534.9,528.9 528.4,532.1 524.5,531.5Z" fill="#bdeac2" stroke="#bdeac2" stroke-width="0.5" stroke-linejoin="round"/>
<path d="M386.0,322.0 390.0,320.0 398.0,317.0 406.0,316.0 416.0,317.0 424.0,318.0 434.0,316.0 442.0,315.0 446.0,310.0 445.0,304.0 450.0,300.0 460.0,297.0 462.6,293.9 472.3,295.5 480.4,303.6 488.5,310.1 501.4,311.7 509.5,308.5 520.8,310.1 533.7,310.1 536.9,323.0 539.9,330.0 537.8,334.2 532.3,336.9 528.8,342.5 530.9,343.8 529.5,348.0 525.4,352.2 519.8,357.0 514.3,362.5 510.2,367.4 504.6,372.9 499.1,375.0 494.2,376.4 489.4,377.8 483.8,379.8 479.7,378.5 475.5,375.7 470.0,377.1 470.7,376.3 465.8,381.2 461.0,387.6 457.8,395.7 460.0,399.0 455.0,399.0 448.0,400.0 445.0,394.0 443.0,386.0 438.0,382.0 434.0,376.0 430.0,370.0 426.0,365.0 422.0,366.0 416.0,370.0 410.0,375.0 404.0,376.0 396.0,374.0 388.0,373.0 381.5,371.9 382.2,367.0 384.0,362.7 383.0,360.0 384.0,354.0 386.0,349.0 389.0,344.0 392.0,340.0 391.0,334.0 388.0,327.0Z" fill="#adadad" stroke="#adadad" stroke-width="0.5" stroke-linejoin="round"/>
<path d="M487.3,389.5 492.2,383.3 494.9,377.8 499.8,377.1 504.6,377.8 510.2,381.9 515.7,379.8 519.8,377.8 523.3,378.5 521.9,382.6 515.7,384.7 510.2,386.8 507.4,391.6 505.3,396.5 502.5,399.2 499.8,397.8 498.4,393.0 493.5,390.9Z" fill="#adadad" stroke="#adadad" stroke-width="0.5" stroke-linejoin="round"/>
<path d="M566.0,389.2 575.7,384.4 585.4,382.8 595.1,381.2 604.8,379.5 614.5,377.9 624.2,378.9 633.8,381.2 638.7,387.6 633.8,392.5 625.8,395.7 619.3,400.5 614.5,405.4 608.0,403.8 598.3,403.8 590.2,405.4 585.4,398.9 575.7,394.1Z" fill="#adadad" stroke="#adadad" stroke-width="0.5" stroke-linejoin="round"/>
<path d="M317.0,551.0 319.0,550.5 320.5,552.5 318.5,553.5Z" fill="#7fccb9" stroke="#7fccb9" stroke-width="0.5" stroke-linejoin="round"/>
<path d="M310.0,427.0 311.6,430.0 310.6,431.6Z" fill="#e1c823" stroke="#e1c823" stroke-width="0.5" stroke-linejoin="round"/>
<path d="M313.6,430.0 315.0,433.6 314.0,434.4Z" fill="#e1c823" stroke="#e1c823" stroke-width="0.5" stroke-linejoin="round"/>
<path d="M317.0,437.0 319.0,440.0 318.0,440.8Z" fill="#e1c823" stroke="#e1c823" stroke-width="0.5" stroke-linejoin="round"/>
<path d="M322.0,444.0 324.4,446.4 323.2,447.0Z" fill="#e1c823" stroke="#e1c823" stroke-width="0.5" stroke-linejoin="round"/>
<path d="M329.0,449.0 332.0,451.0 330.6,451.6Z" fill="#e1c823" stroke="#e1c823" stroke-width="0.5" stroke-linejoin="round"/>
<path d="M336.0,454.0 339.0,455.6 337.6,456.2Z" fill="#e1c823" stroke="#e1c823" stroke-width="0.5" stroke-linejoin="round"/>
<path d="M499.1,375.0 504.6,372.9 510.2,367.4 514.3,362.5 519.8,357.0 525.4,352.2 529.5,348.0 532.3,345.9 536.5,343.8 539.2,343.8 537.2,348.0 533.7,352.8 530.9,356.3 535.1,360.5 534.4,366.0 532.3,371.5 527.5,377.8 525.4,378.5 523.3,378.5 519.8,377.8 515.7,379.8 510.2,381.9 504.6,377.8 499.8,377.1Z" fill="#ffffff" stroke="#ffffff" stroke-width="0.5" stroke-linejoin="round"/>
<path d="M235.0,193.0 238.0,189.0 243.0,185.0 248.0,181.0 254.0,178.0 259.0,176.0 263.0,177.0 264.0,182.0 260.0,186.0 254.0,189.0 252.0,193.0 254.0,198.0 255.0,204.0 253.0,210.0 251.0,216.0 249.0,220.0 247.0,226.0 245.0,232.0 243.6,238.0 243.0,242.0 240.0,240.0 237.0,236.0 235.0,230.0 234.4,224.0 235.0,218.0 233.0,212.0 234.0,206.0 233.0,200.0Z" fill="#7fccb9" stroke="#7fccb9" stroke-width="0.5" stroke-linejoin="round"/>
<path d="M251.0,218.0 256.0,217.0 261.0,218.0 265.0,222.0 268.0,226.0 271.0,227.0 270.0,230.0 266.0,234.0 260.0,239.0 254.0,244.0 249.0,247.0 244.0,245.6 243.0,242.0 243.6,238.0 245.0,232.0 247.0,226.0 249.0,220.0Z" fill="#fee797" stroke="#fee797" stroke-width="0.5" stroke-linejoin="round"/>
<path d="M322.0,90.0 326.0,93.0 334.0,97.0 339.0,101.0 341.0,108.0 344.0,114.0 345.0,122.0 349.0,129.0 348.0,132.0 342.0,133.0 339.0,138.0 336.0,144.0 335.0,150.0 337.0,154.0 334.0,159.0 330.0,164.0 327.0,166.0 324.0,162.0 318.0,160.0 310.0,159.0 302.0,154.0 297.0,149.0 296.0,146.0 295.0,135.0 298.0,130.0 302.0,124.0 303.0,116.0 305.0,108.0 312.0,105.0 311.0,99.0 320.0,97.0 321.0,90.0Z" fill="#1f8485" stroke="#1f8485" stroke-width="0.5" stroke-linejoin="round"/>
<path d="M320.0,209.0 325.0,210.0 328.0,214.0 324.0,219.0 322.0,223.0 321.0,229.0 324.0,231.0 320.0,237.0 319.0,244.0 317.0,246.0 314.0,245.0 310.0,249.0 307.0,246.0 303.0,244.0 301.0,235.0 300.0,226.0 301.0,219.0 308.0,218.0 314.0,214.0Z" fill="#bdeac2" stroke="#bdeac2" stroke-width="0.5" stroke-linejoin="round"/>
<path d="M328.0,214.0 331.0,216.0 332.0,221.0 331.0,226.0 328.0,230.0 324.0,231.0 321.0,229.0 322.0,223.0 324.0,219.0Z" fill="#1f8485" stroke="#1f8485" stroke-width="0.5" stroke-linejoin="round"/>
<path d="M296.0,247.0 300.0,245.0 303.0,244.0 307.0,246.0 310.0,249.0 314.0,245.0 317.0,246.0 318.4,251.0 318.0,257.0 317.0,263.0 315.0,269.0 308.0,268.0 302.0,268.0 296.0,269.0 294.0,265.0 296.0,261.0 293.0,259.0 295.0,253.0Z" fill="#1f8485" stroke="#1f8485" stroke-width="0.5" stroke-linejoin="round"/>
<path d="M321.0,255.0 322.4,256.0 320.0,265.0 318.6,268.0 318.0,265.0 319.6,259.0Z" fill="#1f8485" stroke="#1f8485" stroke-width="0.5" stroke-linejoin="round"/>
<path d="M332.0,246.0 334.4,246.6 335.0,250.0 333.6,255.0 331.0,257.4 329.6,254.0 330.4,249.0Z" fill="#1f8485" stroke="#1f8485" stroke-width="0.5" stroke-linejoin="round"/>
<path d="M291.0,269.0 296.0,269.0 302.0,268.0 308.0,268.0 315.0,269.0 314.0,272.0 309.0,273.0 304.0,277.0 300.0,282.0 294.0,283.0 291.0,278.0 289.6,273.0Z" fill="#bdeac2" stroke="#bdeac2" stroke-width="0.5" stroke-linejoin="round"/>
<path d="M285.0,274.0 288.0,275.0 289.0,279.0 286.4,280.0 284.4,277.0Z" fill="#7fccb9" stroke="#7fccb9" stroke-width="0.5" stroke-linejoin="round"/>
<path d="M306.0,285.0 309.0,286.0 308.0,288.0 306.0,287.0Z" fill="#7fccb9" stroke="#7fccb9" stroke-width="0.5" stroke-linejoin="round"/>
<path d="M365.0,203.0 370.0,201.0 374.0,199.0 380.0,197.0 382.0,199.0 378.0,202.0 373.0,205.0 370.0,207.0 365.0,210.0Z" fill="#bdeac2" stroke="#bdeac2" stroke-width="0.5" stroke-linejoin="round"/>
<path d="M334.0,210.0 338.0,208.0 342.0,210.0 344.0,207.0 345.0,211.0 342.0,214.0 338.0,214.0 335.0,213.0Z" fill="#1f8485" stroke="#1f8485" stroke-width="0.5" stroke-linejoin="round"/>
<path d="M383.0,272.0 388.0,271.0 392.0,272.0 397.0,270.6 399.0,270.0 398.0,275.0 395.0,280.0 396.0,286.0 392.0,287.0 390.0,290.0 387.0,286.0 386.0,281.0 384.0,277.0Z" fill="#7fccb9" stroke="#7fccb9" stroke-width="0.5" stroke-linejoin="round"/>
<path d="M134.0,368.0 139.0,366.0 145.0,365.0 150.0,367.0 156.0,369.0 163.0,371.0 166.0,376.0 163.0,381.0 158.0,383.0 152.0,382.0 146.0,379.0 140.0,376.0 135.0,373.0Z" fill="#bdeac2" stroke="#bdeac2" stroke-width="0.5" stroke-linejoin="round"/>
<path d="M187.0,372.0 190.0,371.0 194.0,375.0 199.0,379.0 203.0,381.0 204.0,386.0 201.0,392.0 197.0,396.0 196.0,402.0 192.0,405.0 186.0,404.0 181.0,401.0 179.0,396.0 175.0,392.0 177.0,387.0 182.0,383.0 184.0,378.0Z" fill="#bdeac2" stroke="#bdeac2" stroke-width="0.5" stroke-linejoin="round"/>
<path d="M179.0,359.0 183.0,357.0 189.0,355.0 194.0,350.0 195.0,344.0 199.0,341.6 203.0,341.0 206.0,345.0 210.0,347.6 211.0,351.6 216.0,353.6 217.0,358.0 215.0,362.0 212.0,366.0 210.0,372.0 207.0,369.0 202.0,367.0 197.0,366.0 193.0,368.0 190.0,370.0 186.0,371.0 183.0,369.0 181.0,364.0Z" fill="#e1c823" stroke="#e1c823" stroke-width="0.5" stroke-linejoin="round"/>
<path d="M223.0,367.0 228.0,365.0 233.0,366.0 239.0,366.0 243.0,369.0 245.0,372.0 242.0,378.0 241.0,385.0 239.0,388.0 234.0,386.0 229.0,383.0 226.0,378.0 223.0,373.0Z" fill="#e1c823" stroke="#e1c823" stroke-width="0.5" stroke-linejoin="round"/>
<path d="M160.0,413.0 165.0,417.0 171.0,419.0 177.0,415.0 181.0,417.0 183.0,423.0 179.0,430.0 173.0,434.0 168.0,437.0 165.0,442.0 163.0,448.0 160.0,451.0 154.0,447.0 149.0,443.0 151.0,439.0 154.0,432.0 157.0,424.0 159.0,416.0Z" fill="#bdeac2" stroke="#bdeac2" stroke-width="0.5" stroke-linejoin="round"/>
<path d="M185.0,448.0 191.0,446.0 197.0,443.0 200.0,438.0 199.0,432.0 202.0,428.0 207.0,430.0 210.0,435.0 214.0,437.0 218.0,440.0 218.0,450.0 212.0,448.0 206.0,449.0 200.0,452.0 197.0,457.0 198.0,461.0 194.0,461.0 188.0,460.0 186.0,455.0Z" fill="#e1c823" stroke="#e1c823" stroke-width="0.5" stroke-linejoin="round"/>
<path d="M218.0,440.0 224.0,438.0 228.0,434.0 232.0,430.0 235.0,427.0 238.0,430.0 239.0,436.0 244.0,439.0 246.0,443.0 242.0,445.0 236.0,449.0 230.0,453.0 224.0,452.0 218.0,450.0Z" fill="#e1c823" stroke="#e1c823" stroke-width="0.5" stroke-linejoin="round"/>
<path d="M218.4,345.0 219.7,345.0 219.7,346.4 218.4,346.4Z" fill="#c9a24a" stroke="#c9a24a" stroke-width="0.5" stroke-linejoin="round"/>
<path d="M230.0,313.0 236.0,311.0 242.0,310.0 245.0,314.0 244.0,319.0 238.0,320.0 233.0,318.0Z" fill="#7fccb9" stroke="#7fccb9" stroke-width="0.5" stroke-linejoin="round"/>
<path d="M211.0,338.0 216.0,333.0 220.0,330.0 221.6,335.0 218.0,339.0 214.0,337.0Z" fill="#7fccb9" stroke="#7fccb9" stroke-width="0.5" stroke-linejoin="round"/>
<path d="M255.0,292.0 264.0,292.0 265.0,296.0 270.0,298.0 275.0,300.0 271.0,304.0 265.0,303.0 260.0,304.0 258.0,302.0 257.0,296.0Z" fill="#bdeac2" stroke="#bdeac2" stroke-width="0.5" stroke-linejoin="round"/>
<path d="M275.0,300.0 278.0,299.0 283.0,299.4 291.0,297.6 298.0,298.4 302.0,300.4 304.0,303.0 305.0,310.0 301.0,311.0 295.0,310.0 289.0,312.0 283.0,313.0 278.0,311.0 274.0,307.0 271.0,304.0Z" fill="#bdeac2" stroke="#bdeac2" stroke-width="0.5" stroke-linejoin="round"/>
<path d="M296.0,322.0 300.0,321.6 300.6,325.0 296.6,325.6Z" fill="#fee797" stroke="#fee797" stroke-width="0.5" stroke-linejoin="round"/>
<path d="M274.0,321.0 280.0,318.0 286.0,320.0 290.0,327.0 292.0,332.0 295.0,336.0 292.0,341.0 288.0,345.0 283.0,342.0 278.0,338.0 273.0,337.0 268.0,340.0 265.0,336.0 269.0,331.0 272.0,326.0Z" fill="#bdeac2" stroke="#bdeac2" stroke-width="0.5" stroke-linejoin="round"/>
<path d="M297.0,339.0 303.0,338.0 308.0,337.0 312.0,339.0 313.0,343.0 308.0,345.0 304.0,346.0 300.0,348.0 297.4,344.0Z" fill="#1f8485" stroke="#1f8485" stroke-width="0.5" stroke-linejoin="round"/>
<path d="M244.0,328.0 249.0,326.0 253.0,329.0 255.0,335.0 258.0,340.0 257.0,345.0 253.0,347.0 249.0,344.0 245.0,340.0 242.0,335.0Z" fill="#bdeac2" stroke="#bdeac2" stroke-width="0.5" stroke-linejoin="round"/>
<path d="M235.0,335.0 240.0,334.0 244.0,339.0 243.0,344.0 239.0,345.0 236.0,342.0Z" fill="#fee797" stroke="#fee797" stroke-width="0.5" stroke-linejoin="round"/>
<path d="M234.0,347.0 239.0,345.0 245.0,343.0 249.0,347.0 245.0,350.0 239.0,352.0 235.0,350.0Z" fill="#bdeac2" stroke="#bdeac2" stroke-width="0.5" stroke-linejoin="round"/>
<path d="M252.0,348.0 258.0,346.0 263.0,349.0 264.0,353.0 258.0,355.0 253.0,353.0Z" fill="#bdeac2" stroke="#bdeac2" stroke-width="0.5" stroke-linejoin="round"/>
<path d="M235.0,355.0 240.0,354.0 243.0,358.0 242.0,363.0 237.0,364.0 234.6,360.0Z" fill="#1f8485" stroke="#1f8485" stroke-width="0.5" stroke-linejoin="round"/>
<path d="M238.0,365.6 243.0,364.4 245.0,367.6 242.0,369.6 238.6,368.4Z" fill="#bdeac2" stroke="#bdeac2" stroke-width="0.5" stroke-linejoin="round"/>
<path d="M275.0,356.0 280.0,353.0 285.0,354.0 289.0,358.0 291.0,362.0 295.0,367.0 300.0,371.0 304.0,375.0 303.0,379.0 300.0,384.0 297.0,388.0 299.0,392.0 296.0,394.0 291.0,393.0 285.0,394.0 279.0,396.0 272.0,395.0 268.0,393.0 263.0,394.0 255.0,392.0 249.0,393.0 243.0,395.0 241.0,396.0 246.0,390.0 247.0,384.0 249.0,379.0 253.0,378.0 257.0,381.0 258.0,376.0 259.0,371.0 264.0,368.0 263.0,363.0 268.0,364.0 273.0,361.0Z" fill="#1f8485" stroke="#1f8485" stroke-width="0.5" stroke-linejoin="round"/>
<path d="M265.0,395.0 269.0,395.6 270.0,400.0 267.0,401.6 264.4,399.0Z" fill="#bdeac2" stroke="#bdeac2" stroke-width="0.5" stroke-linejoin="round"/>
<path d="M290.0,354.0 295.0,351.0 300.0,348.0 304.0,346.0 309.0,347.0 311.0,350.0 307.0,353.0 303.0,356.0 298.0,359.0 293.0,360.0 289.4,358.0Z" fill="#bdeac2" stroke="#bdeac2" stroke-width="0.5" stroke-linejoin="round"/>
<path d="M307.0,355.6 310.0,355.0 311.0,358.0 308.6,359.6 306.6,358.0Z" fill="#1f8485" stroke="#1f8485" stroke-width="0.5" stroke-linejoin="round"/>
<path d="M334.0,354.0 339.0,355.0 343.0,358.0 347.0,361.0 345.0,365.0 341.0,364.0 337.0,361.0 334.0,358.0Z" fill="#bdeac2" stroke="#bdeac2" stroke-width="0.5" stroke-linejoin="round"/>
<path d="M324.0,295.0 331.0,292.0 337.0,290.0 341.0,288.0 344.0,289.0 345.0,292.0 348.0,294.0 346.0,298.0 349.0,304.0 347.0,312.0 348.0,320.0 346.0,327.0 343.0,333.0 341.0,339.0 338.0,340.0 337.0,346.0 334.0,354.0 329.0,350.0 323.0,348.0 317.0,345.0 313.0,343.0 318.0,338.0 321.0,335.0 319.0,329.0 318.0,322.0 315.0,316.0 319.0,313.0 324.0,310.0 325.0,302.0Z" fill="#bdeac2" stroke="#bdeac2" stroke-width="0.5" stroke-linejoin="round"/>
<path d="M358.0,318.0 362.0,316.0 367.0,316.4 370.0,319.0 369.0,323.0 364.0,324.4 360.0,323.6 357.6,321.0Z" fill="#1f8485" stroke="#1f8485" stroke-width="0.5" stroke-linejoin="round"/>
<path d="M368.6,346.7 372.9,339.9 377.8,342.4 381.5,345.5 387.1,344.2 385.8,349.8 383.4,354.7 384.0,361.5 379.1,360.8 374.2,359.6 369.2,359.6 371.1,354.7 369.2,351.0Z" fill="#e1c823" stroke="#e1c823" stroke-width="0.5" stroke-linejoin="round"/>
<path d="M270.0,395.0 280.0,394.0 290.0,393.0 297.0,394.0 301.0,397.0 303.0,400.0 296.0,400.0 290.0,402.0 285.0,404.0 280.0,403.0 274.0,402.0 270.0,400.0Z" fill="#7fccb9" stroke="#7fccb9" stroke-width="0.5" stroke-linejoin="round"/>
<path d="M296.0,400.0 303.0,400.0 309.0,400.0 314.0,403.0 320.0,403.0 326.0,401.0 327.0,405.0 322.0,407.0 317.0,406.0 312.0,407.0 307.0,407.0 303.0,409.0 301.0,407.0 295.0,406.0 292.0,406.0 290.0,402.0Z" fill="#fee797" stroke="#fee797" stroke-width="0.5" stroke-linejoin="round"/>
<path d="M327.0,380.0 329.4,379.6 329.4,382.4 327.0,382.4Z" fill="#fee797" stroke="#fee797" stroke-width="0.5" stroke-linejoin="round"/>
<path d="M360.6,363.3 364.3,361.5 369.2,359.6 374.2,359.6 379.1,360.8 382.8,361.5 384.0,362.7 382.2,367.0 381.5,371.9 377.8,372.5 374.2,371.3 369.2,371.9 365.5,372.5 363.1,370.7 361.2,367.0Z" fill="#e1c823" stroke="#e1c823" stroke-width="0.5" stroke-linejoin="round"/>
<path d="M332.3,375.0 336.0,376.2 338.5,379.9 337.2,383.6 334.2,382.4 332.3,379.3Z" fill="#1f8485" stroke="#1f8485" stroke-width="0.5" stroke-linejoin="round"/>
<path d="M329.0,392.0 332.0,386.0 336.0,384.0 342.0,387.0 348.0,385.0 354.0,384.0 359.0,386.0 363.0,390.0 364.0,395.0 359.0,397.0 354.0,399.0 351.0,398.0 346.0,399.0 341.0,401.0 338.0,405.0 336.0,408.0 332.0,405.0 330.0,401.0 328.0,398.0Z" fill="#1f8485" stroke="#1f8485" stroke-width="0.5" stroke-linejoin="round"/>
<path d="M354.0,399.0 359.0,397.0 364.0,395.0 370.0,392.0 375.0,391.0 378.0,395.0 377.0,400.0 372.0,404.0 366.0,407.0 360.0,409.0 355.0,410.0 354.0,406.0Z" fill="#bdeac2" stroke="#bdeac2" stroke-width="0.5" stroke-linejoin="round"/>
<path d="M326.0,413.0 330.0,414.0 329.0,417.0 325.6,417.0Z" fill="#fee797" stroke="#fee797" stroke-width="0.5" stroke-linejoin="round"/>
<path d="M370.0,423.0 373.0,421.0 376.0,425.0 375.0,430.0 371.0,431.0 368.4,427.0Z" fill="#fee797" stroke="#fee797" stroke-width="0.5" stroke-linejoin="round"/>
<path d="M250.0,436.0 256.0,437.0 262.0,438.0 268.0,442.0 265.0,437.0 260.0,434.0 254.0,434.0 248.0,437.0 246.0,443.0 248.0,442.0Z" fill="#e1c823" stroke="#e1c823" stroke-width="0.5" stroke-linejoin="round"/>
<path d="M292.0,446.0 297.0,443.0 301.0,446.0 305.0,451.0 309.0,457.0 306.0,459.0 302.0,461.0 301.0,466.0 304.0,470.0 309.0,475.0 308.0,481.0 302.0,478.0 295.0,474.0 290.0,471.0 285.0,466.0 287.0,460.0 290.0,454.0 291.0,449.0Z" fill="#e1c823" stroke="#e1c823" stroke-width="0.5" stroke-linejoin="round"/>
<path d="M302.0,461.0 306.0,459.0 309.0,457.0 314.0,462.0 320.0,466.0 328.0,469.0 333.0,470.0 330.0,474.0 336.0,478.0 344.0,482.0 352.0,486.0 358.0,491.0 360.0,496.0 358.0,495.0 353.0,491.0 347.0,487.0 342.0,488.0 339.0,494.0 341.0,500.0 346.0,504.0 345.0,510.0 341.0,513.0 339.0,519.0 335.0,524.0 331.6,523.0 333.0,517.0 336.0,512.0 334.0,505.0 331.0,498.0 326.0,496.0 320.0,492.0 314.0,486.0 308.0,481.0 309.0,475.0 304.0,470.0 301.0,466.0Z" fill="#967a02" stroke="#967a02" stroke-width="0.5" stroke-linejoin="round"/>
<path d="M119.0,439.0 128.0,438.0 136.0,440.0 142.0,441.0 149.0,443.0 154.0,447.0 160.0,451.0 166.0,453.0 173.0,455.0 179.0,456.0 183.0,458.0 188.0,460.0 194.0,461.0 198.0,461.0 197.0,466.0 194.0,470.0 188.0,474.0 180.0,477.0 173.0,480.0 167.0,484.0 163.0,482.0 159.0,486.0 154.0,489.0 150.0,488.0 147.0,483.0 144.0,478.0 142.0,472.0 145.0,466.0 142.0,460.0 137.0,458.0 134.0,452.0 135.0,446.0 132.0,442.0 134.0,454.0 136.0,449.0 134.0,444.0 129.0,443.0 124.0,444.0 120.0,442.0Z" fill="#fee797" stroke="#fee797" stroke-width="0.5" stroke-linejoin="round"/>
<path d="M116.0,477.0 121.0,472.0 126.0,470.0 128.0,475.0 127.0,482.0 123.0,485.0 119.0,482.0Z" fill="#fee797" stroke="#fee797" stroke-width="0.5" stroke-linejoin="round"/>
<path d="M81.0,482.0 85.0,480.0 89.0,475.0 96.0,474.0 102.0,478.0 105.0,483.0 107.0,490.0 110.0,493.0 107.0,497.0 105.0,501.0 110.0,505.0 116.0,507.0 124.0,507.0 130.0,510.0 133.0,515.0 135.0,521.0 138.0,525.0 135.0,529.0 131.0,532.0 125.0,531.0 119.0,530.0 112.0,529.0 106.0,530.0 101.0,532.0 96.0,534.0 93.0,535.0 89.0,532.0 86.0,527.0 83.0,520.0 78.0,515.0 75.0,512.0 77.0,507.0 81.0,504.0 80.0,499.0 82.0,493.0 83.0,488.0Z" fill="#967a02" stroke="#967a02" stroke-width="0.5" stroke-linejoin="round"/>
<path d="M74.0,447.0 80.0,447.0 83.0,450.0 88.0,451.0 93.0,450.0 97.0,454.0 99.0,458.0 95.0,461.0 91.0,464.0 86.0,464.0 80.0,463.0 75.0,464.0 73.0,459.0 73.6,453.0Z" fill="#fee797" stroke="#fee797" stroke-width="0.5" stroke-linejoin="round"/>
<path d="M62.0,481.0 65.0,481.0 69.0,480.0 73.0,478.0 75.0,481.0 73.0,485.0 69.0,487.0 65.0,489.0 61.0,487.0 59.0,484.0Z" fill="#fee797" stroke="#fee797" stroke-width="0.5" stroke-linejoin="round"/>
<path d="M371.0,405.0 376.0,401.0 379.0,398.0 386.0,398.0 391.0,400.0 396.0,403.0 400.0,408.0 403.0,410.0 409.0,408.0 412.0,413.0 414.0,420.0 416.0,427.0 415.0,432.4 406.0,433.0 400.0,432.0 396.0,430.0 395.0,427.0 392.0,424.0 388.0,423.0 382.0,418.0 378.0,413.0 372.0,408.0Z" fill="#967a02" stroke="#967a02" stroke-width="0.5" stroke-linejoin="round"/>
<path d="M427.0,399.0 432.0,395.0 439.0,394.0 445.0,394.0 448.0,400.0 455.0,399.0 460.0,399.0 459.0,406.0 456.0,412.0 454.0,418.0 454.0,423.0 449.0,422.0 448.0,417.0 446.0,412.0 440.0,411.0 434.0,412.0 429.0,409.0 426.0,405.0Z" fill="#967a02" stroke="#967a02" stroke-width="0.5" stroke-linejoin="round"/>
<path d="M395.0,427.0 396.0,430.0 400.0,432.0 406.0,433.0 414.0,433.0 421.0,433.0 420.0,439.0 416.0,443.0 411.0,444.0 405.0,442.0 400.0,441.0 396.0,436.0 394.0,431.0Z" fill="#e1c823" stroke="#e1c823" stroke-width="0.5" stroke-linejoin="round"/>
<path d="M400.0,441.0 405.0,442.0 411.0,444.0 416.0,443.0 417.0,447.0 413.0,450.0 412.0,456.0 415.0,461.0 412.0,463.0 407.0,466.0 404.0,464.0 402.0,459.0 397.0,456.0 396.0,451.0 399.0,446.0Z" fill="#bdeac2" stroke="#bdeac2" stroke-width="0.5" stroke-linejoin="round"/>
<path d="M438.0,425.0 440.0,423.0 448.0,422.0 454.0,423.0 455.0,428.0 452.0,434.0 447.0,436.0 441.0,438.0 435.0,439.0 431.0,439.0 430.0,435.0 434.0,432.0 439.0,430.0Z" fill="#bdeac2" stroke="#bdeac2" stroke-width="0.5" stroke-linejoin="round"/>
<path d="M388.0,481.0 394.0,478.0 397.0,483.0 402.0,486.0 407.0,488.0 410.0,492.0 411.0,497.0 409.0,500.0 405.0,499.0 400.0,500.0 395.0,498.0 391.0,495.0 390.0,490.0 387.0,486.0Z" fill="#967a02" stroke="#967a02" stroke-width="0.5" stroke-linejoin="round"/>
<path d="M388.0,503.0 392.0,501.0 396.0,503.0 399.0,507.0 395.0,511.0 390.0,509.0 387.6,506.0Z" fill="#967a02" stroke="#967a02" stroke-width="0.5" stroke-linejoin="round"/>
<path d="M393.0,515.0 398.0,512.0 403.0,513.0 405.0,516.0 402.0,519.0 399.0,521.0 395.0,520.0Z" fill="#967a02" stroke="#967a02" stroke-width="0.5" stroke-linejoin="round"/>
<path d="M208.3,346.6 210.0,347.7 215.8,348.9 219.8,348.0 220.2,351.8 216.9,352.9 212.3,351.2 208.9,349.5Z" fill="#967a02" stroke="#967a02" stroke-width="0.5" stroke-linejoin="round"/>
<path d="M224.5,348.9 229.7,347.7 233.7,349.5 234.9,352.9 230.8,354.1 226.8,351.8Z" fill="#967a02" stroke="#967a02" stroke-width="0.5" stroke-linejoin="round"/>
<path d="M226.8,320.4 228.6,319.2 230.0,320.4 229.4,323.6 227.6,324.0Z" fill="#ffffff" stroke="#ffffff" stroke-width="0.5" stroke-linejoin="round"/>
<path d="M283.0,360.0 288.0,358.4 292.0,361.6 296.0,367.0 300.0,371.0 298.0,375.0 293.0,376.0 288.0,375.0 284.0,372.0 281.0,369.0 280.6,364.4Z" fill="#7fccb9" stroke="#7fccb9" stroke-width="0.5" stroke-linejoin="round"/>
<path d="M268.0,393.0 272.0,395.0 279.0,396.0 278.0,399.0 273.0,399.6 269.0,397.0Z" fill="#7fccb9" stroke="#7fccb9" stroke-width="0.5" stroke-linejoin="round"/>
<path d="M58.0,486.6 61.0,486.2 61.0,489.0 58.4,489.0Z" fill="#7fccb9" stroke="#7fccb9" stroke-width="0.5" stroke-linejoin="round"/>
<path d="M427.0,416.0 430.0,415.0 431.0,419.0 428.0,421.0Z" fill="#7fccb9" stroke="#7fccb9" stroke-width="0.5" stroke-linejoin="round"/>
<path d="M166.0,373.0 165.0,379.0 158.0,382.0 152.0,385.0" fill="none" stroke="#9a9686" stroke-width="0.35" stroke-opacity="0.7" stroke-linejoin="round"/>
<path d="M162.0,370.0 166.0,373.0 173.0,374.0 180.0,376.0 183.0,372.0" fill="none" stroke="#9a9686" stroke-width="0.35" stroke-opacity="0.7" stroke-linejoin="round"/>
<path d="M154.0,398.0 162.0,394.0 170.0,393.0 174.0,396.0 177.0,391.0 176.0,385.0 180.0,376.0" fill="none" stroke="#9a9686" stroke-width="0.35" stroke-opacity="0.7" stroke-linejoin="round"/>
<path d="M159.0,414.0 166.0,416.0 173.0,419.0 179.0,416.0 183.0,419.0" fill="none" stroke="#9a9686" stroke-width="0.35" stroke-opacity="0.7" stroke-linejoin="round"/>
<path d="M174.0,396.0 180.0,402.0 183.0,408.0 180.0,413.0 183.0,419.0" fill="none" stroke="#9a9686" stroke-width="0.35" stroke-opacity="0.7" stroke-linejoin="round"/>
<path d="M183.0,408.0 190.0,405.0 196.0,408.0 197.0,416.0 192.0,422.0 189.0,428.0 183.0,426.0 183.0,419.0" fill="none" stroke="#9a9686" stroke-width="0.35" stroke-opacity="0.7" stroke-linejoin="round"/>
<path d="M200.0,375.0 204.0,381.0 203.0,390.0 206.0,398.0 200.0,403.0 196.0,408.0" fill="none" stroke="#9a9686" stroke-width="0.35" stroke-opacity="0.7" stroke-linejoin="round"/>
<path d="M191.0,369.0 198.0,367.0 206.0,369.0 209.0,374.0 206.0,379.0 200.0,381.0 194.0,379.0 191.0,374.0 191.0,369.0" fill="none" stroke="#9a9686" stroke-width="0.35" stroke-opacity="0.7" stroke-linejoin="round"/>
<path d="M209.0,374.0 216.0,376.0 222.0,382.0 228.0,386.0" fill="none" stroke="#9a9686" stroke-width="0.35" stroke-opacity="0.7" stroke-linejoin="round"/>
<path d="M222.0,382.0 220.0,390.0 226.0,394.0 228.0,400.0" fill="none" stroke="#9a9686" stroke-width="0.35" stroke-opacity="0.7" stroke-linejoin="round"/>
<path d="M206.0,379.0 209.0,388.0 207.0,397.0 210.0,404.0 217.0,407.0 224.0,404.0 228.0,400.0" fill="none" stroke="#9a9686" stroke-width="0.35" stroke-opacity="0.7" stroke-linejoin="round"/>
<path d="M228.0,386.0 234.0,389.0 240.0,388.0 244.0,383.0" fill="none" stroke="#9a9686" stroke-width="0.35" stroke-opacity="0.7" stroke-linejoin="round"/>
<path d="M228.0,400.0 231.0,406.0 236.0,409.0" fill="none" stroke="#9a9686" stroke-width="0.35" stroke-opacity="0.7" stroke-linejoin="round"/>
<path d="M210.0,404.0 209.0,412.0 214.0,418.0 212.0,426.0 207.0,429.0" fill="none" stroke="#9a9686" stroke-width="0.35" stroke-opacity="0.7" stroke-linejoin="round"/>
<path d="M212.0,426.0 220.0,430.0 228.0,428.0 234.0,431.0 240.0,428.0" fill="none" stroke="#9a9686" stroke-width="0.35" stroke-opacity="0.7" stroke-linejoin="round"/>
<path d="M183.0,426.0 180.0,434.0 174.0,438.0 170.0,444.0 166.0,449.0" fill="none" stroke="#9a9686" stroke-width="0.35" stroke-opacity="0.7" stroke-linejoin="round"/>
<path d="M189.0,428.0 194.0,432.0 200.0,429.0 207.0,429.0" fill="none" stroke="#9a9686" stroke-width="0.35" stroke-opacity="0.7" stroke-linejoin="round"/>
<path d="M191.0,356.0 197.0,359.0 204.0,357.0 209.0,352.0 214.0,354.0" fill="none" stroke="#9a9686" stroke-width="0.35" stroke-opacity="0.7" stroke-linejoin="round"/>
<path d="M204.0,357.0 206.0,362.0 204.0,369.0" fill="none" stroke="#9a9686" stroke-width="0.35" stroke-opacity="0.7" stroke-linejoin="round"/>
<path d="M243.0,376.0 241.0,383.0 242.0,390.0" fill="none" stroke="#9a9686" stroke-width="0.35" stroke-opacity="0.7" stroke-linejoin="round"/>
<path d="M95.0,437.0 93.0,443.0 97.0,449.0 97.0,454.0" fill="none" stroke="#9a9686" stroke-width="0.35" stroke-opacity="0.7" stroke-linejoin="round"/>
<path d="M96.0,429.0 98.0,435.0 108.0,437.0 118.0,439.0" fill="none" stroke="#9a9686" stroke-width="0.35" stroke-opacity="0.7" stroke-linejoin="round"/>
<path d="M92.0,471.0 100.0,473.0 108.0,477.0 116.0,477.0" fill="none" stroke="#9a9686" stroke-width="0.35" stroke-opacity="0.7" stroke-linejoin="round"/>
<path d="M128.0,475.0 132.0,469.0 138.0,465.0 143.0,465.0" fill="none" stroke="#9a9686" stroke-width="0.35" stroke-opacity="0.7" stroke-linejoin="round"/>
<path d="M149.0,488.0 146.0,495.0 148.0,501.0 144.0,507.0 138.0,511.0 130.0,510.0" fill="none" stroke="#9a9686" stroke-width="0.35" stroke-opacity="0.7" stroke-linejoin="round"/>
<path d="M138.0,511.0 142.0,517.0 148.0,522.0" fill="none" stroke="#9a9686" stroke-width="0.35" stroke-opacity="0.7" stroke-linejoin="round"/>
<path d="M165.0,452.0 164.0,461.0 167.0,471.0 165.0,480.0 161.0,482.0" fill="none" stroke="#9a9686" stroke-width="0.35" stroke-opacity="0.7" stroke-linejoin="round"/>
<path d="M149.0,443.0 146.0,451.0 150.0,457.0 147.0,463.0 143.0,465.0" fill="none" stroke="#9a9686" stroke-width="0.35" stroke-opacity="0.7" stroke-linejoin="round"/>
<path d="M136.0,449.0 141.0,451.0 146.0,451.0" fill="none" stroke="#9a9686" stroke-width="0.35" stroke-opacity="0.7" stroke-linejoin="round"/>
<path d="M134.0,454.0 139.0,456.0 140.0,461.0" fill="none" stroke="#9a9686" stroke-width="0.35" stroke-opacity="0.7" stroke-linejoin="round"/>
<path d="M107.0,490.0 114.0,491.0 120.0,487.0 123.0,485.0" fill="none" stroke="#9a9686" stroke-width="0.35" stroke-opacity="0.7" stroke-linejoin="round"/>
<path d="M110.0,505.0 107.0,497.0" fill="none" stroke="#9a9686" stroke-width="0.35" stroke-opacity="0.7" stroke-linejoin="round"/>
<path d="M470.7,462.3 478.8,472.0 475.5,481.7 485.2,486.5 488.5,494.6 482.0,501.1" fill="none" stroke="#b9ad7a" stroke-width="0.35" stroke-opacity="0.7" stroke-linejoin="round"/>
<path d="M488.5,455.8 494.9,465.5 504.6,468.8 509.5,478.5 504.6,488.2 509.5,497.8 506.2,510.8" fill="none" stroke="#b9ad7a" stroke-width="0.35" stroke-opacity="0.7" stroke-linejoin="round"/>
<path d="M509.5,478.5 520.8,475.2 530.5,478.5 536.9,472.0 533.7,462.3 540.2,452.6 536.9,442.9" fill="none" stroke="#b9ad7a" stroke-width="0.35" stroke-opacity="0.7" stroke-linejoin="round"/>
<path d="M530.5,478.5 533.7,488.2 527.2,497.8 530.5,507.5" fill="none" stroke="#b9ad7a" stroke-width="0.35" stroke-opacity="0.7" stroke-linejoin="round"/>
<path d="M536.9,472.0 549.8,475.2 559.5,470.4 569.2,473.6 575.7,465.5 569.2,455.8 572.5,446.2 567.6,438.1" fill="none" stroke="#b9ad7a" stroke-width="0.35" stroke-opacity="0.7" stroke-linejoin="round"/>
<path d="M549.8,475.2 553.1,484.9 549.8,494.6 554.7,493.0" fill="none" stroke="#b9ad7a" stroke-width="0.35" stroke-opacity="0.7" stroke-linejoin="round"/>
<path d="M575.7,465.5 588.6,463.9 598.3,459.1 595.1,449.4 601.5,441.3 598.3,434.8" fill="none" stroke="#b9ad7a" stroke-width="0.35" stroke-opacity="0.7" stroke-linejoin="round"/>
<path d="M569.2,473.6 572.5,481.7 582.2,478.5 591.8,475.2" fill="none" stroke="#b9ad7a" stroke-width="0.35" stroke-opacity="0.7" stroke-linejoin="round"/>
<path d="M598.3,459.1 608.0,462.3 614.5,455.8 624.2,452.6 627.4,444.5 620.9,438.1" fill="none" stroke="#b9ad7a" stroke-width="0.35" stroke-opacity="0.7" stroke-linejoin="round"/>
<path d="M509.5,442.9 514.3,452.6 509.5,462.3 504.6,468.8" fill="none" stroke="#b9ad7a" stroke-width="0.35" stroke-opacity="0.7" stroke-linejoin="round"/>
<path d="M514.3,452.6 527.2,451.0 536.9,442.9" fill="none" stroke="#b9ad7a" stroke-width="0.35" stroke-opacity="0.7" stroke-linejoin="round"/>
<path d="M485.2,486.5 496.5,483.3 504.6,488.2" fill="none" stroke="#b9ad7a" stroke-width="0.35" stroke-opacity="0.7" stroke-linejoin="round"/>
<path d="M475.5,481.7 465.8,484.9 459.4,494.6" fill="none" stroke="#b9ad7a" stroke-width="0.35" stroke-opacity="0.7" stroke-linejoin="round"/>
<path d="M259.0,415.0 260.0,422.0 257.0,428.0 260.0,433.0" fill="none" stroke="#9a9686" stroke-width="0.35" stroke-opacity="0.7" stroke-linejoin="round"/>
<path d="M273.0,411.0 275.0,418.0 273.0,424.0 278.0,427.0" fill="none" stroke="#9a9686" stroke-width="0.35" stroke-opacity="0.7" stroke-linejoin="round"/>
<path d="M260.0,433.0 268.0,430.0 278.0,427.0 286.0,428.0 291.0,430.0" fill="none" stroke="#9a9686" stroke-width="0.35" stroke-opacity="0.7" stroke-linejoin="round"/>
<path d="M264.0,437.0 272.0,439.0 280.0,443.0 287.0,445.0 291.0,443.0" fill="none" stroke="#9a9686" stroke-width="0.35" stroke-opacity="0.7" stroke-linejoin="round"/>
<path d="M273.0,411.0 280.0,409.0 287.0,410.0" fill="none" stroke="#9a9686" stroke-width="0.35" stroke-opacity="0.7" stroke-linejoin="round"/>
<path d="M293.0,412.0 295.0,419.0 293.0,422.0" fill="none" stroke="#9a9686" stroke-width="0.35" stroke-opacity="0.7" stroke-linejoin="round"/>
<path d="M291.0,448.0 295.0,454.0 299.0,460.0" fill="none" stroke="#9a9686" stroke-width="0.35" stroke-opacity="0.7" stroke-linejoin="round"/>
<path d="M287.0,460.0 293.0,459.0 299.0,460.0" fill="none" stroke="#9a9686" stroke-width="0.35" stroke-opacity="0.7" stroke-linejoin="round"/>
<path d="M309.0,466.0 315.0,473.0 320.0,470.0 324.0,473.0 329.0,469.0" fill="none" stroke="#b9ad7a" stroke-width="0.35" stroke-opacity="0.7" stroke-linejoin="round"/>
<path d="M315.0,473.0 317.0,480.0 324.0,482.0 328.0,488.0 334.0,486.0 336.0,491.0" fill="none" stroke="#b9ad7a" stroke-width="0.35" stroke-opacity="0.7" stroke-linejoin="round"/>
<path d="M324.0,482.0 326.0,473.0" fill="none" stroke="#b9ad7a" stroke-width="0.35" stroke-opacity="0.7" stroke-linejoin="round"/>
<path d="M328.0,488.0 330.0,496.0 336.0,498.0" fill="none" stroke="#b9ad7a" stroke-width="0.35" stroke-opacity="0.7" stroke-linejoin="round"/>
<path d="M323.9,296.5 325.6,304.8 329.7,307.2 330.5,313.0 324.8,315.5 318.2,321.3" fill="none" stroke="#9a9686" stroke-width="0.35" stroke-opacity="0.7" stroke-linejoin="round"/>
<path d="M329.7,307.2 338.0,303.1 346.2,304.8" fill="none" stroke="#9a9686" stroke-width="0.35" stroke-opacity="0.7" stroke-linejoin="round"/>
<path d="M330.5,313.0 339.6,315.5 347.9,318.0" fill="none" stroke="#9a9686" stroke-width="0.35" stroke-opacity="0.7" stroke-linejoin="round"/>
<path d="M349.5,309.7 356.9,306.4 366.0,304.8 372.6,295.7 377.6,292.4" fill="none" stroke="#9a9686" stroke-width="0.35" stroke-opacity="0.7" stroke-linejoin="round"/>
<path d="M366.0,304.8 369.3,310.5 376.7,314.7 383.3,313.0 385.8,311.4" fill="none" stroke="#9a9686" stroke-width="0.35" stroke-opacity="0.7" stroke-linejoin="round"/>
<path d="M376.7,314.7 377.6,321.3 372.6,326.2 373.4,334.5 369.3,339.4" fill="none" stroke="#9a9686" stroke-width="0.35" stroke-opacity="0.7" stroke-linejoin="round"/>
<path d="M372.6,326.2 366.0,327.9 360.2,327.9 357.8,334.5 354.5,335.3 349.5,333.6 342.1,329.5" fill="none" stroke="#9a9686" stroke-width="0.35" stroke-opacity="0.7" stroke-linejoin="round"/>
<path d="M360.2,327.9 361.1,334.5 357.8,339.4 359.4,346.0 356.1,349.3 352.8,346.0 349.5,349.3 344.6,346.0" fill="none" stroke="#9a9686" stroke-width="0.35" stroke-opacity="0.7" stroke-linejoin="round"/>
<path d="M359.4,346.0 366.0,349.3 369.3,346.0" fill="none" stroke="#9a9686" stroke-width="0.35" stroke-opacity="0.7" stroke-linejoin="round"/>
<path d="M356.1,349.3 355.3,355.9 360.2,362.5" fill="none" stroke="#9a9686" stroke-width="0.35" stroke-opacity="0.7" stroke-linejoin="round"/>
<path d="M318.2,321.3 319.8,329.5 316.5,334.5" fill="none" stroke="#9a9686" stroke-width="0.35" stroke-opacity="0.7" stroke-linejoin="round"/>
<path d="M335.5,334.5 333.0,341.1 335.5,346.0 333.0,352.6" fill="none" stroke="#9a9686" stroke-width="0.35" stroke-opacity="0.7" stroke-linejoin="round"/>
<path d="M319.8,329.5 328.1,332.8 335.5,334.5 341.3,329.5" fill="none" stroke="#9a9686" stroke-width="0.35" stroke-opacity="0.7" stroke-linejoin="round"/>
<path d="M349.6,159.3 357.7,161.6 364.6,159.3 370.4,162.8 372.7,170.9 375.0,180.1 379.7,185.9 387.7,187.0 394.7,180.1 400.4,175.5" fill="none" stroke="#9a9686" stroke-width="0.35" stroke-opacity="0.7" stroke-linejoin="round"/>
<path d="M357.7,161.6 360.0,170.9 357.7,180.1 362.3,189.3 367.0,196.3" fill="none" stroke="#9a9686" stroke-width="0.35" stroke-opacity="0.7" stroke-linejoin="round"/>
<path d="M379.7,185.9 373.9,193.9 367.0,196.3 364.6,200.0" fill="none" stroke="#9a9686" stroke-width="0.35" stroke-opacity="0.7" stroke-linejoin="round"/>
<path d="M286.8,186.8 296.1,193.4 306.7,188.2 317.2,186.8" fill="none" stroke="#9a9686" stroke-width="0.35" stroke-opacity="0.7" stroke-linejoin="round"/>
<path d="M282.9,217.2 293.4,222.5 301.4,218.6" fill="none" stroke="#9a9686" stroke-width="0.35" stroke-opacity="0.7" stroke-linejoin="round"/>
<path d="M286.8,233.1 294.8,241.0 300.1,235.7" fill="none" stroke="#9a9686" stroke-width="0.35" stroke-opacity="0.7" stroke-linejoin="round"/>
<path d="M263.0,182.9 269.7,186.8 277.6,184.2 284.2,186.8" fill="none" stroke="#9a9686" stroke-width="0.35" stroke-opacity="0.7" stroke-linejoin="round"/>
<path d="M264.4,209.3 272.3,214.6 281.5,217.2 282.9,225.2" fill="none" stroke="#9a9686" stroke-width="0.35" stroke-opacity="0.7" stroke-linejoin="round"/>
<path d="M272.3,214.6 269.7,222.5 273.6,230.4" fill="none" stroke="#9a9686" stroke-width="0.35" stroke-opacity="0.7" stroke-linejoin="round"/>
<path d="M258.8,372.6 264.6,377.6 267.9,384.2 266.3,392.4" fill="none" stroke="#79b9b6" stroke-width="0.35" stroke-opacity="0.7" stroke-linejoin="round"/>
<path d="M269.6,366.0 272.9,372.6 279.5,374.3 282.8,380.9 281.1,389.1" fill="none" stroke="#79b9b6" stroke-width="0.35" stroke-opacity="0.7" stroke-linejoin="round"/>
<path d="M279.5,374.3 287.7,371.0 294.3,374.3" fill="none" stroke="#79b9b6" stroke-width="0.35" stroke-opacity="0.7" stroke-linejoin="round"/>
<path d="M264.6,377.6 272.9,372.6" fill="none" stroke="#79b9b6" stroke-width="0.35" stroke-opacity="0.7" stroke-linejoin="round"/>
<path d="M251.4,382.5 258.0,385.8 266.3,392.4" fill="none" stroke="#79b9b6" stroke-width="0.35" stroke-opacity="0.7" stroke-linejoin="round"/>
<path d="M244.8,315.7 249.8,324.8 241.5,330.5" fill="none" stroke="#8fa89a" stroke-width="0.35" stroke-opacity="0.7" stroke-linejoin="round"/>
<path d="M253.9,329.7 264.6,328.1 272.0,321.5" fill="none" stroke="#8fa89a" stroke-width="0.35" stroke-opacity="0.7" stroke-linejoin="round"/>
<path d="M256.4,338.0 264.6,339.6" fill="none" stroke="#8fa89a" stroke-width="0.35" stroke-opacity="0.7" stroke-linejoin="round"/>
<path d="M263.8,352.8 274.5,354.5 279.5,352.8" fill="none" stroke="#8fa89a" stroke-width="0.35" stroke-opacity="0.7" stroke-linejoin="round"/>
<path d="M258.0,309.9 263.0,316.5 274.5,317.3" fill="none" stroke="#8fa89a" stroke-width="0.35" stroke-opacity="0.7" stroke-linejoin="round"/>
<path d="M288.5,329.7 294.3,327.2 302.6,328.9" fill="none" stroke="#8fa89a" stroke-width="0.35" stroke-opacity="0.7" stroke-linejoin="round"/>
<path d="M279.5,343.7 287.7,346.2 297.1,344.6" fill="none" stroke="#8fa89a" stroke-width="0.35" stroke-opacity="0.7" stroke-linejoin="round"/>
<path d="M249.8,354.5 258.0,362.7 260.5,371.0" fill="none" stroke="#8fa89a" stroke-width="0.35" stroke-opacity="0.7" stroke-linejoin="round"/>
<path d="M410.8,378.0 412.9,387.7 405.4,395.2 401.1,399.5" fill="none" stroke="#9a9686" stroke-width="0.35" stroke-opacity="0.7" stroke-linejoin="round"/>
<path d="M412.9,387.7 424.8,390.9 428.0,396.3" fill="none" stroke="#9a9686" stroke-width="0.35" stroke-opacity="0.7" stroke-linejoin="round"/>
<path d="M401.1,399.5 404.3,407.1" fill="none" stroke="#9a9686" stroke-width="0.35" stroke-opacity="0.7" stroke-linejoin="round"/>
<path d="M416.2,408.2 424.8,412.5 425.8,422.2" fill="none" stroke="#9a9686" stroke-width="0.35" stroke-opacity="0.7" stroke-linejoin="round"/>
<path d="M394.6,378.0 398.9,386.6 405.4,395.2" fill="none" stroke="#9a9686" stroke-width="0.35" stroke-opacity="0.7" stroke-linejoin="round"/>
<path d="M132.4,270.0 129.0,274.0 126.0,277.0 123.0,279.0 124.0,282.0 127.0,284.0 130.0,283.0 132.0,286.0 135.0,287.6" fill="none" stroke="#45453a" stroke-width="0.8" stroke-linejoin="round"/>
<path d="M280.0,232.0 282.0,226.0 284.0,218.0 285.0,210.0 287.6,202.0 286.0,194.0 284.0,186.0 282.4,178.0 282.0,170.0" fill="none" stroke="#45453a" stroke-width="0.8" stroke-linejoin="round"/>
<path d="M283.0,171.0 284.0,168.0 288.0,163.0 294.0,159.0 293.0,150.0 296.0,146.0 295.0,135.0 298.0,130.0 302.0,124.0 303.0,116.0 305.0,108.0 312.0,105.0 311.0,99.0 320.0,97.0 321.0,90.0 323.0,87.0 329.0,89.0 334.0,90.0 338.0,93.0 342.0,89.0 346.0,87.0" fill="none" stroke="#45453a" stroke-width="0.8" stroke-linejoin="round"/>
<path d="M203.0,341.0 206.0,345.0 210.0,347.6 211.0,351.6 216.0,353.6 218.0,357.6 221.0,357.0 224.0,359.0 226.0,362.0 229.0,363.6 233.0,364.4 239.0,365.6 243.0,369.0 246.0,371.0 250.0,373.0 249.0,378.0 247.0,385.0 245.6,392.0 244.0,397.0 242.0,399.0 241.0,396.0 238.0,400.0 235.0,402.0 232.0,406.0 230.0,410.0 233.0,410.0 238.0,408.0 242.0,413.0 239.0,414.0 241.0,418.0 239.0,423.0 235.0,427.0 238.0,430.0 239.0,436.0 244.0,439.0 246.0,443.0" fill="none" stroke="#45453a" stroke-width="0.8" stroke-linejoin="round"/>
<path d="M198.0,461.0 194.0,461.0 188.0,460.0 183.0,458.0 179.0,456.0 173.0,455.0 166.0,453.0 160.0,451.0 154.0,447.0 149.0,443.0" fill="none" stroke="#45453a" stroke-width="0.8" stroke-linejoin="round"/>
<path d="M74.0,447.0 80.0,447.0 83.0,450.0 88.0,451.0 93.0,450.0 97.0,454.0 99.0,458.0 95.0,461.0 92.0,465.0 91.0,471.0 89.0,475.0 85.0,480.0 81.0,482.0 83.0,488.0 82.0,493.0 80.0,499.0 81.0,504.0 77.0,507.0 75.0,512.0" fill="none" stroke="#45453a" stroke-width="0.8" stroke-linejoin="round"/>
<path d="M304.0,303.0 305.0,310.0 307.0,318.0 309.0,326.0 310.0,333.0 312.0,338.0 313.0,343.0 308.0,345.0 304.0,346.0 300.0,348.0 295.0,351.0 290.0,354.0 289.0,358.0 291.0,362.0 295.0,367.0 300.0,371.0 304.0,375.0 303.0,379.0 300.0,384.0 297.0,388.0 299.0,392.0 296.0,394.0 291.0,393.0 285.0,394.0 279.0,396.0 272.0,395.0 268.0,393.0 263.0,394.0 255.0,392.0 249.0,393.0 243.0,395.0 241.0,396.0 246.0,390.0 247.0,384.0 249.0,379.0 250.0,373.0 244.0,371.0 238.0,369.0 233.0,367.0 232.0,363.0 234.0,360.0 233.0,356.0 231.0,352.0 234.0,347.0 236.0,342.0 235.0,335.0 239.0,331.0 242.0,327.0 244.0,320.0 245.0,314.0" fill="none" stroke="#45453a" stroke-width="0.8" stroke-linejoin="round"/>
<path d="M255.0,292.0 264.0,292.0" fill="none" stroke="#45453a" stroke-width="0.8" stroke-linejoin="round"/>
<path d="M349.0,291.0 356.0,290.0 364.0,289.0 372.0,288.0 375.0,290.0 379.0,293.0 381.0,299.0 384.0,304.0 386.0,310.0 383.0,316.0 386.0,322.0 388.0,327.0 391.0,334.0 392.0,340.0 389.0,344.0 386.0,349.0 384.0,354.0 383.0,360.0 382.8,361.5 379.1,360.8 374.2,359.6 369.2,359.6 364.3,361.5 360.6,363.3 356.9,361.5 352.0,362.7 348.1,361.1 347.0,361.0 343.0,358.0 339.0,355.0 334.0,354.0 329.0,350.0 323.0,348.0 317.0,345.0 313.0,343.0" fill="none" stroke="#45453a" stroke-width="0.8" stroke-linejoin="round"/>
<path d="M347.0,361.0 345.0,365.0 342.0,369.0 338.0,372.0 333.0,371.0 328.0,374.0 322.0,373.0 316.0,375.0 311.0,377.0 306.0,376.0 304.0,375.0" fill="none" stroke="#45453a" stroke-width="0.8" stroke-linejoin="round"/>
<path d="M270.0,395.0 280.0,394.0 290.0,393.0 297.0,394.0 295.0,390.0 298.0,386.0 300.0,380.0 303.0,379.0 306.0,376.0 311.0,377.0 316.0,375.0 322.0,373.0 328.0,374.0 333.0,371.0 334.0,376.0 332.0,380.0 334.0,384.0 330.0,390.0 329.0,395.0 329.0,392.0 328.0,398.0 326.0,401.0 327.0,405.0 322.0,407.0 317.0,406.0 312.0,407.0 307.0,407.0 303.0,409.0 301.0,407.0 295.0,406.0 292.0,406.0 286.0,408.0 280.0,409.0 275.0,407.0 272.0,408.0 270.0,404.0 270.0,400.0 270.0,395.0" fill="none" stroke="#45453a" stroke-width="0.8" stroke-linejoin="round"/>
<path d="M348.1,361.1 352.0,362.7 356.9,361.5 360.6,363.3 364.3,361.5 369.2,359.6 374.2,359.6 379.1,360.8 382.8,361.5 384.0,362.7 382.2,367.0 381.5,371.9 377.8,372.5 374.2,371.3 369.2,371.9 365.5,372.5 361.8,375.6 356.9,378.1 352.6,381.5 349.5,383.6 344.6,384.2 337.2,383.6 334.2,382.4 332.3,379.3 332.3,375.0 333.5,373.2 337.2,370.7 340.9,368.2 344.6,364.5 348.1,361.1" fill="none" stroke="#45453a" stroke-width="0.8" stroke-linejoin="round"/>
<path d="M327.0,405.0 326.0,401.0 328.0,398.0 329.0,392.0 332.0,386.0 334.2,382.4 337.2,383.6 344.6,384.2 349.5,383.6 352.6,381.5 356.9,378.1 361.8,375.6 365.5,372.5 369.2,371.9 374.2,371.3 377.8,372.5 381.5,371.9 389.0,375.5 388.0,382.0 386.0,388.0 382.0,394.0 378.0,398.0 374.0,401.0 376.0,401.0 371.0,405.0 372.0,404.0 366.0,407.0 360.0,409.0 355.0,410.0 353.0,411.0 348.0,413.0 342.0,412.0 338.0,410.0 334.0,412.0 329.0,408.0 327.0,405.0" fill="none" stroke="#45453a" stroke-width="0.8" stroke-linejoin="round"/>
<path d="M246.0,443.0 244.0,439.0 239.0,436.0 238.0,430.0 235.0,427.0 239.0,423.0 241.0,418.0 239.0,414.0 242.0,413.0 244.0,408.0 248.0,409.0 253.0,407.0 256.0,410.0 255.0,410.0 258.0,416.0 259.0,411.0 262.0,408.0 267.0,410.0 272.0,408.0 275.0,407.0 280.0,409.0 286.0,408.0 292.0,406.0 295.0,406.0 301.0,407.0 303.0,409.0 303.0,415.0 305.0,419.0 306.0,421.0 305.0,425.0" fill="none" stroke="#45453a" stroke-width="0.8" stroke-linejoin="round"/>
<path d="M329.0,408.0 326.0,412.0 323.0,415.0 320.0,417.0 317.0,414.0 314.0,418.0 309.0,420.0 306.0,421.0" fill="none" stroke="#45453a" stroke-width="0.8" stroke-linejoin="round"/>
<path d="M329.0,408.0 334.0,412.0 338.0,410.0 342.0,412.0 348.0,413.0 353.0,411.0 355.0,410.0 359.0,415.0 360.0,420.0 358.0,423.0" fill="none" stroke="#45453a" stroke-width="0.8" stroke-linejoin="round"/>
<path d="M326.0,425.0 330.0,423.0 336.0,422.0 344.0,423.0 352.0,423.0 358.0,423.0 361.0,427.0 360.0,432.0 363.0,437.0 364.0,441.0 361.0,445.0 358.0,449.0 356.0,453.0 354.0,457.0 350.0,455.0 346.0,451.0 341.0,448.0 336.0,444.0 332.0,439.0 329.0,434.0 325.0,429.0 326.0,425.0" fill="none" stroke="#45453a" stroke-width="0.8" stroke-linejoin="round"/>
<path d="M360.0,408.0 366.0,406.0 371.0,405.0 372.0,408.0 378.0,413.0 382.0,418.0 388.0,423.0 392.0,424.0 395.0,427.0 394.0,431.0 396.0,436.0 400.0,441.0 399.0,446.0 396.0,451.0 397.0,456.0 392.0,456.0 389.0,457.0 388.0,452.0 385.0,448.0 380.0,447.0 377.0,449.0 373.0,452.0 372.0,449.0 368.0,446.0 364.0,444.0 362.0,440.0 363.0,434.0 361.0,428.0 360.0,420.0 356.0,415.0 354.0,412.0 360.0,408.0" fill="none" stroke="#45453a" stroke-width="0.8" stroke-linejoin="round"/>
<path d="M373.0,452.0 375.0,457.0 378.0,460.0 382.0,461.0 386.0,459.0 389.0,457.0" fill="none" stroke="#8c8c8c" stroke-width="0.6" stroke-linejoin="round"/>
<path d="M366.0,460.0 369.0,456.0 373.0,452.0" fill="none" stroke="#8c8c8c" stroke-width="0.6" stroke-linejoin="round"/>
<path d="M378.0,460.0 379.0,464.0 379.6,469.0 381.0,474.0 385.0,478.0" fill="none" stroke="#8c8c8c" stroke-width="0.6" stroke-linejoin="round"/>
<path d="M385.0,478.0 389.0,477.0 394.0,474.0 399.0,472.0 403.0,469.0 404.0,464.0 402.0,459.0 397.0,456.0" fill="none" stroke="#45453a" stroke-width="0.8" stroke-linejoin="round"/>
<path d="M385.0,478.0 386.0,484.0 384.0,486.0 381.0,490.0 379.0,495.0" fill="none" stroke="#45453a" stroke-width="0.8" stroke-linejoin="round"/>
<path d="M460.0,399.0 459.0,406.0 456.0,412.0 454.0,418.0 454.0,423.0 448.0,422.0 440.0,423.0 434.0,426.0 428.0,430.0 422.0,432.0 414.0,433.0 406.0,433.0 400.0,432.0 396.0,430.0 395.0,427.0 392.0,424.0 388.0,423.0 382.0,418.0 378.0,413.0 372.0,408.0 371.0,405.0 376.0,401.0 374.0,401.0 378.0,398.0 382.0,394.0 386.0,388.0 388.0,382.0" fill="none" stroke="#45453a" stroke-width="0.8" stroke-linejoin="round"/>
<path d="M454.0,423.0 448.0,422.0 440.0,423.0 434.0,426.0 428.0,430.0 422.0,432.0 414.0,433.0 406.0,433.0 400.0,432.0 396.0,430.0 395.0,427.0 392.0,424.0 388.0,423.0 382.0,418.0 378.0,413.0 372.0,408.0 371.0,405.0 376.0,401.0 374.0,401.0 378.0,398.0 382.0,394.0 386.0,388.0 388.0,382.0" fill="none" stroke="#45453a" stroke-width="0.8" stroke-linejoin="round"/>
<path d="M454.0,449.0 446.0,450.0 441.0,453.0 439.0,457.0 435.0,460.0 430.0,462.0 424.0,463.0 418.0,464.0 412.0,463.0 407.0,466.0 404.0,464.0" fill="none" stroke="#45453a" stroke-width="0.8" stroke-linejoin="round"/>
<path d="M443.8,450.8 438.3,456.3 439.7,458.4 441.8,461.2 440.4,466.0 438.3,470.8" fill="none" stroke="#45453a" stroke-width="0.8" stroke-linejoin="round"/>
<path d="M614.5,405.4 617.7,411.8 625.8,416.7 630.6,428.0 633.8,440.9 638.7,447.4 643.5,453.8 643.5,446.5 634.3,451.8 626.5,457.0 618.6,462.2 610.8,466.2 602.9,470.1 595.1,474.0 587.2,479.2 579.4,484.5 571.5,488.4 563.7,492.3 562.4,502.8 558.5,500.2 555.8,492.3" fill="none" stroke="#45453a" stroke-width="0.8" stroke-linejoin="round"/>
<path d="M324.0,88.0 334.0,97.0 339.0,101.0 341.0,108.0 344.0,114.0 345.0,122.0 349.0,129.0" fill="none" stroke="#45453a" stroke-width="0.8" stroke-linejoin="round"/>
<path d="M363.0,80.0 370.0,92.0 370.0,93.0 373.0,99.0 374.0,108.0 379.0,116.0 383.0,122.0 382.0,128.0 385.0,134.0 390.0,140.0 392.0,148.0 398.0,154.0 403.0,159.0 405.0,165.0 403.0,171.0 402.0,171.0 399.0,179.0 395.0,187.0 391.0,193.0" fill="none" stroke="#45453a" stroke-width="0.8" stroke-linejoin="round"/>
<path d="M363.0,80.0 365.0,74.0 367.0,70.0 371.0,68.0" fill="none" stroke="#45453a" stroke-width="0.8" stroke-linejoin="round"/>
<path d="M396.0,211.0 395.0,219.0 397.0,229.0 399.0,235.0 398.0,238.0 401.0,240.0 403.0,246.0 405.0,251.0 408.0,255.0 406.0,260.0 402.0,263.0 399.0,265.0 400.0,270.0 398.0,275.0 395.0,280.0 396.0,286.0 392.0,287.0 390.0,291.0 385.0,292.0 379.0,293.0" fill="none" stroke="#45453a" stroke-width="0.8" stroke-linejoin="round"/>
<path d="M375.0,237.0 379.0,235.0 384.0,235.0 389.0,237.0 393.0,239.0 398.0,238.0" fill="none" stroke="#45453a" stroke-width="0.8" stroke-linejoin="round"/>
<path d="M399.0,265.0 395.0,263.0 390.0,261.0 386.0,259.0 382.0,257.0 378.0,259.0 373.0,260.0 370.0,261.0 360.0,262.0 355.0,267.0" fill="none" stroke="#45453a" stroke-width="0.8" stroke-linejoin="round"/>
<path d="M356.0,271.0 360.0,280.0 370.0,286.0 373.0,288.0 375.0,290.0 379.0,293.0" fill="none" stroke="#45453a" stroke-width="0.8" stroke-linejoin="round"/>
<path d="M245.0,314.0 244.0,320.0 242.0,327.0 239.0,331.0 235.0,335.0 236.0,342.0 234.0,347.0 231.0,345.0 232.0,341.0 228.0,338.0 223.0,337.0 218.0,339.0 214.0,337.0 211.0,338.0" fill="none" stroke="#45453a" stroke-width="0.8" stroke-linejoin="round"/>
<path d="M231.0,358.0 234.0,357.0 235.0,361.0 233.0,364.4 229.0,363.6 231.0,359.0" fill="none" stroke="#45453a" stroke-width="0.8" stroke-linejoin="round"/>
<path d="M408.0,255.0 413.0,256.0 417.0,258.0 421.0,255.0 427.0,256.0 432.0,259.0 434.0,265.0 437.0,271.0 441.0,275.0 445.0,279.0 450.0,280.0 454.0,283.0 452.0,287.0 447.0,289.0 446.0,292.0 450.0,280.0 454.0,286.0 450.0,292.0 454.0,298.0 460.0,297.0" fill="none" stroke="#8c8c8c" stroke-width="0.6" stroke-linejoin="round"/>
<path d="M386.0,322.0 390.0,320.0 398.0,317.0 406.0,316.0 416.0,317.0 424.0,318.0 434.0,316.0 442.0,315.0 446.0,310.0 445.0,304.0 450.0,300.0 460.0,297.0 462.6,293.9 472.3,295.5 480.4,303.6 488.5,310.1 501.4,311.7 509.5,308.5 520.8,310.1 533.7,310.1 536.9,323.0 539.9,330.0 537.8,334.2 532.3,336.9 528.8,342.5 530.9,343.8" fill="none" stroke="#8c8c8c" stroke-width="0.6" stroke-linejoin="round"/>
<path d="M426.0,365.0 432.0,362.0 439.0,363.0 444.0,366.0 448.0,372.0 452.0,378.0 455.0,384.0 453.0,389.0 450.0,394.0 446.5,402.2 452.9,398.9 457.8,395.7" fill="none" stroke="#8c8c8c" stroke-width="0.6" stroke-linejoin="round"/>
<path d="M566.0,389.2 575.7,384.4 585.4,382.8 595.1,381.2 604.8,379.5 614.5,377.9 624.2,378.9 633.8,381.2 638.7,387.6 633.8,392.5 625.8,395.7 619.3,400.5 614.5,405.4" fill="none" stroke="#8c8c8c" stroke-width="0.6" stroke-linejoin="round"/>
<path d="M633.8,392.5 640.3,395.7 646.8,402.2 650.0,411.8 625.8,416.7 633.8,418.3 643.5,421.5" fill="none" stroke="#8c8c8c" stroke-width="0.5" stroke-linejoin="round"/>
<path d="M621.2,463.0 617.3,479.2 612.1,497.5 605.5,515.8 599.8,528.9 592.5,540.7 584.6,551.2" fill="none" stroke="#8c8c8c" stroke-width="0.5" stroke-linejoin="round"/>
<path d="M599.8,528.9 608.2,537.3 616.0,543.3 626.5,539.4" fill="none" stroke="#8c8c8c" stroke-width="0.5" stroke-linejoin="round"/>
<path d="M563.7,526.3 567.6,522.4 570.2,526.3 568.9,534.2 566.3,540.7 564.2,544.6" fill="none" stroke="#8c8c8c" stroke-width="0.5" stroke-linejoin="round"/>
<path d="M585.6,270.0 588.0,283.0 592.5,296.0 604.6,303.0 615.0,306.0 625.4,311.6" fill="none" stroke="#8c8c8c" stroke-width="0.5" stroke-linejoin="round"/>
<defs>
<linearGradient id="fr" x1="0" y1="0" x2="1" y2="0"><stop offset="0" stop-color="#fff" stop-opacity="0"/><stop offset="1" stop-color="#fff" stop-opacity="1"/></linearGradient>
<linearGradient id="fb" x1="0" y1="0" x2="0" y2="1"><stop offset="0" stop-color="#fff" stop-opacity="0"/><stop offset="1" stop-color="#fff" stop-opacity="1"/></linearGradient>
<linearGradient id="ft" x1="0" y1="1" x2="0" y2="0"><stop offset="0" stop-color="#fff" stop-opacity="0"/><stop offset="1" stop-color="#fff" stop-opacity="1"/></linearGradient>
</defs>
<rect x="631" y="50" width="14" height="520" fill="url(#fr)"/><rect x="645" y="50" width="6" height="520" fill="#fff"/>

<rect x="540" y="525" width="110" height="36" fill="url(#fb)"/>
<defs><filter id="sh" x="-10%" y="-10%" width="120%" height="120%"><feGaussianBlur stdDeviation="3"/></filter><filter id="bl1"><feGaussianBlur stdDeviation="1.2"/></filter><linearGradient id="gg" x1="0" y1="0" x2="1" y2="0.3"><stop offset="0" stop-color="#d2d2d2"/><stop offset="1" stop-color="#f2f2f2"/></linearGradient><clipPath id="cguy"><rect x="519.5" y="146" width="62" height="62"/></clipPath><clipPath id="clie"><rect x="544" y="231" width="38" height="31"/></clipPath></defs>
<rect x="445" y="57" width="198" height="214" rx="3" fill="#ffffff" opacity="0.75" filter="url(#sh)"/>
<rect x="447" y="58.5" width="194" height="210.5" rx="1.5" fill="#ffffff"/>
<line x1="454.4" y1="132.2" x2="509.0" y2="132.2" stroke="#aaaaaa" stroke-width="0.7"/>
<line x1="513.6" y1="79.0" x2="513.6" y2="207.5" stroke="#bdbdbd" stroke-width="0.7"/>
<line x1="454.5" y1="213.4" x2="635.5" y2="213.4" stroke="#bdbdbd" stroke-width="0.7"/>
<line x1="499.0" y1="231.0" x2="499.0" y2="261.0" stroke="#c9c9c9" stroke-width="0.6"/>
<line x1="541.0" y1="231.0" x2="541.0" y2="261.0" stroke="#c9c9c9" stroke-width="0.6"/>
<line x1="589.3" y1="231.0" x2="589.3" y2="261.0" stroke="#c9c9c9" stroke-width="0.6"/>
<line x1="574.6" y1="74.4" x2="583.2" y2="106.7" stroke="#dddddd" stroke-width="0.6"/>
<line x1="583.2" y1="106.7" x2="634.9" y2="114.2" stroke="#dddddd" stroke-width="0.6"/>
<line x1="583.2" y1="106.7" x2="569.2" y2="130.4" stroke="#dddddd" stroke-width="0.6"/>
<line x1="518.6" y1="125.6" x2="569.2" y2="130.4" stroke="#dddddd" stroke-width="0.6"/>
<line x1="569.2" y1="130.4" x2="584.3" y2="161.6" stroke="#dddddd" stroke-width="0.6"/>
<line x1="584.3" y1="161.6" x2="634.9" y2="167.0" stroke="#dddddd" stroke-width="0.6"/>
<text x="454.4" y="73.7" font-family="Liberation Sans, sans-serif" font-size="6.0" fill="#333">Canarias (ES)</text>
<text x="519.5" y="72.8" font-family="Liberation Sans, sans-serif" font-size="6.0" fill="#333">Guadeloupe (FR)</text>
<text x="588.0" y="73.3" font-family="Liberation Sans, sans-serif" font-size="6.0" fill="#333">Martinique (FR)</text>
<text x="588.0" y="126.0" font-family="Liberation Sans, sans-serif" font-size="6.0" fill="#333">Réunion (FR)</text>
<text x="519.5" y="140.7" font-family="Liberation Sans, sans-serif" font-size="6.0" fill="#333">Guyane (FR)</text>
<text x="454.6" y="151.0" font-family="Liberation Sans, sans-serif" font-size="6.0" fill="#333">Malta</text>
<text x="588.0" y="177.5" font-family="Liberation Sans, sans-serif" font-size="6.0" fill="#333">Mayotte (FR)</text>
<text x="454.5" y="226.0" font-family="Liberation Sans, sans-serif" font-size="6.0" fill="#333">Açores (PT)</text>
<text x="501.4" y="226.0" font-family="Liberation Sans, sans-serif" font-size="6.0" fill="#333">Madeira (PT)</text>
<text x="545.0" y="226.0" font-family="Liberation Sans, sans-serif" font-size="6.0" fill="#333">Liechtenstein</text>
<text x="590.0" y="226.0" font-family="Liberation Sans, sans-serif" font-size="6.0" fill="#333">Svalbard (NO)</text>
<path d="M456.3,87.7 458.6,87.3 459.2,90.4 457.3,92.2Z" fill="#d2b62a"/>
<path d="M454.1,101.8 456.3,100.4 456.8,102.5Z" fill="#d2b62a"/>
<path d="M463.7,96.4 465.9,96.4 465.3,98.6Z" fill="#d2b62a"/>
<path d="M468.6,94.0 474.0,92.2 477.7,90.9 475.9,94.0 473.1,98.6 470.4,98.6Z" fill="#d2b62a"/>
<path d="M481.3,97.6 484.6,96.4 486.7,98.6 485.3,101.8 482.2,101.8Z" fill="#d2b62a"/>
<path d="M496.7,97.6 499.4,95.8 502.2,89.5 504.9,87.7 504.0,92.2 501.3,96.7 498.5,98.6Z" fill="#d2b62a"/>
<path d="M504.9,85.9 507.6,82.2 508.5,84.0 506.3,87.7Z" fill="#d2b62a"/>
<path d="M500.4,120.0 509.4,111.6 509.4,120.0Z" fill="#dcdcdc"/>
<path d="M457.3,111.0 V113.4 M457.3,112.2 H469.5 M469.5,111.0 V113.4" stroke="#777" stroke-width="0.5" fill="none"/>
<text x="455.8" y="119.7" font-family="Liberation Sans, sans-serif" font-size="5.6" fill="#555">0</text>
<text x="464.5" y="119.7" font-family="Liberation Sans, sans-serif" font-size="5.6" fill="#555">100</text>
<path d="M528.3,98.1 532.6,95.9 536.9,98.1 539.1,104.5 538.0,111.0 534.8,115.3 531.5,114.2 529.4,107.8Z" fill="#967a02"/>
<path d="M541.2,90.5 544.5,88.4 546.6,92.7 549.8,95.9 555.2,100.2 550.9,101.3 545.5,102.8 541.2,103.5 539.1,100.2 540.2,95.9Z" fill="#967a02"/>
<path d="M550.9,114.2 554.2,112.7 556.3,115.7 554.8,119.2 551.6,118.5Z" fill="#967a02"/>
<path d="M561.7,98.1 565.6,95.9 566.0,96.8 562.3,98.9Z" fill="#967a02"/>
<path d="M535.4,119.2 537.6,118.8 537.4,120.0Z" fill="#967a02"/>
<path d="M527.2,84.1 531.5,82.6 531.5,86.9 528.3,87.3Z" fill="#967a02"/>
<path d="M523.4,85.6 525.1,84.7 525.1,86.4Z" fill="#967a02"/>
<rect x="519.7" y="80.8" width="15" height="9.8" fill="none" stroke="#dddddd" stroke-width="0.5"/>
<path d="M561.7,110.9 V113.3 M561.7,112.1 H571.4 M571.4,110.9 V113.3" stroke="#777" stroke-width="0.5" fill="none"/>
<text x="560.2" y="119.6" font-family="Liberation Sans, sans-serif" font-size="5.6" fill="#555">0</text>
<text x="567.0" y="119.6" font-family="Liberation Sans, sans-serif" font-size="5.6" fill="#555">20</text>
<path d="M599.4,84.1 603.7,80.8 608.0,81.9 611.2,86.2 614.5,87.3 613.4,90.5 616.6,94.8 619.8,99.2 618.8,103.5 615.5,101.3 611.2,101.3 608.0,99.2 606.9,94.8 603.7,91.6 601.5,87.3Z" fill="#dcc436"/>
<path d="M589.7,94.3 V96.7 M589.7,95.5 H599.4 M599.4,94.3 V96.7" stroke="#777" stroke-width="0.5" fill="none"/>
<text x="588.2" y="103.0" font-family="Liberation Sans, sans-serif" font-size="5.6" fill="#555">0</text>
<text x="595.2" y="103.0" font-family="Liberation Sans, sans-serif" font-size="5.6" fill="#555">20</text>
<path d="M601.5,141.2 605.8,136.4 612.3,134.7 619.8,136.8 625.2,142.2 627.4,148.7 624.2,154.1 617.7,156.2 610.2,155.2 604.8,150.8 602.2,145.5Z" fill="#967a02"/>
<path d="M590.1,151.1 V153.5 M590.1,152.3 H599.4 M599.4,151.1 V153.5" stroke="#777" stroke-width="0.5" fill="none"/>
<text x="588.5" y="159.8" font-family="Liberation Sans, sans-serif" font-size="5.6" fill="#555">0</text>
<text x="595.2" y="159.8" font-family="Liberation Sans, sans-serif" font-size="5.6" fill="#555">20</text>
<path d="M465.2,168.8 469.1,166.2 473.9,168.1 475.5,172.0 470.7,173.6 466.5,172.0Z" fill="#7fccb9"/>
<path d="M477.2,178.5 482.0,175.2 488.5,178.5 494.9,181.7 498.2,186.5 495.6,191.4 488.5,190.7 482.0,187.5 478.1,183.3Z" fill="#7fccb9"/>
<path d="M474.9,174.6 476.8,173.9 476.8,175.9Z" fill="#7fccb9"/>
<path d="M457.8,193.4 V195.8 M457.8,194.6 H467.5 M467.5,193.4 V195.8" stroke="#777" stroke-width="0.5" fill="none"/>
<text x="456.3" y="202.1" font-family="Liberation Sans, sans-serif" font-size="5.6" fill="#555">0</text>
<text x="463.5" y="202.1" font-family="Liberation Sans, sans-serif" font-size="5.6" fill="#555">10</text>
<g clip-path="url(#cguy)"><path d="M519.0,147.1 528.8,147.7 538.0,150.1 554.1,157.8 568.1,169.7 571.6,169.0 575.9,174.9 578.7,181.9 580.5,191.8 581.1,208.6 519.0,208.6Z" fill="#dddddd" filter="url(#bl1)"/></g>
<path d="M538.0,150.4 542.2,151.1 547.1,153.9 552.7,156.0 558.3,159.5 563.2,163.0 567.4,167.2 569.5,171.4 566.0,176.3 562.5,182.6 559.0,188.9 556.2,195.3 553.4,198.8 548.5,197.4 543.6,198.8 538.7,198.1 535.2,199.5 531.6,197.4 528.8,196.0 533.1,191.8 534.5,186.1 533.1,181.2 534.5,176.3 532.4,170.7 530.2,165.1 530.9,158.8 533.8,153.9Z" fill="#967a02"/>
<path d="M522.5,193.9 526.0,196.0 528.8,196.7" fill="none" stroke="#6b5a10" stroke-width="0.5"/>
<path d="M561.2,195.0 V197.4 M561.2,196.2 H574.1 M574.1,195.0 V197.4" stroke="#777" stroke-width="0.5" fill="none"/>
<text x="560.0" y="203.7" font-family="Liberation Sans, sans-serif" font-size="5.6" fill="#555">0</text>
<text x="568.3" y="203.7" font-family="Liberation Sans, sans-serif" font-size="5.6" fill="#555">100</text>
<path d="M604.8,186.5 609.6,183.3 614.5,188.2 619.3,191.4 622.6,189.8 620.9,196.2 616.1,199.5 614.5,205.9 609.6,207.5 607.4,201.1 608.0,194.6 604.8,191.4Z" fill="#adadad"/>
<path d="M590.2,195.0 V197.4 M590.2,196.2 H600.0 M600.0,195.0 V197.4" stroke="#777" stroke-width="0.5" fill="none"/>
<text x="588.7" y="203.7" font-family="Liberation Sans, sans-serif" font-size="5.6" fill="#555">0</text>
<text x="594.3" y="203.7" font-family="Liberation Sans, sans-serif" font-size="5.6" fill="#555">10</text>
<rect x="455" y="231" width="22" height="28" fill="none" stroke="#eeeeee" stroke-width="0.5"/><rect x="478.5" y="231" width="16" height="18" fill="none" stroke="#eeeeee" stroke-width="0.5"/>
<path d="M461.0,239.9 464.2,238.2 465.2,242.4 462.0,243.7Z" fill="#fbe6a0"/>
<path d="M461.0,239.9 464.2,238.2 465.2,242.4 462.0,243.7Z" fill="none" stroke="#d9c16a" stroke-width="0.4"/>
<path d="M479.4,231.8 483.6,232.7 483.9,234.7 480.1,234.0Z" fill="#fbe6a0"/>
<path d="M479.4,231.8 483.6,232.7 483.9,234.7 480.1,234.0Z" fill="none" stroke="#d9c16a" stroke-width="0.4"/>
<path d="M452.9,256.7 457.8,255.4 462.6,257.6 459.4,259.2 454.5,258.6Z" fill="#fbe6a0"/>
<path d="M452.9,256.7 457.8,255.4 462.6,257.6 459.4,259.2 454.5,258.6Z" fill="none" stroke="#d9c16a" stroke-width="0.4"/>
<path d="M465.8,254.4 469.1,252.8 469.7,254.7 466.8,256.0Z" fill="#fbe6a0"/>
<path d="M465.8,254.4 469.1,252.8 469.7,254.7 466.8,256.0Z" fill="none" stroke="#d9c16a" stroke-width="0.4"/>
<path d="M473.9,253.7 478.8,252.8 478.1,256.0 474.2,256.0Z" fill="#fbe6a0"/>
<path d="M473.9,253.7 478.8,252.8 478.1,256.0 474.2,256.0Z" fill="none" stroke="#d9c16a" stroke-width="0.4"/>
<path d="M486.8,243.1 488.5,243.1 488.5,244.7 486.8,244.7Z" fill="#fbe6a0"/>
<path d="M486.8,243.1 488.5,243.1 488.5,244.7 486.8,244.7Z" fill="none" stroke="#d9c16a" stroke-width="0.4"/>
<path d="M483.6,251.3 V253.7 M483.6,252.5 H492.6 M492.6,251.3 V253.7" stroke="#777" stroke-width="0.5" fill="none"/>
<text x="482.4" y="260.0" font-family="Liberation Sans, sans-serif" font-size="5.6" fill="#555">0</text>
<text x="488.3" y="260.0" font-family="Liberation Sans, sans-serif" font-size="5.6" fill="#555">50</text>
<path d="M508.5,241.5 514.3,239.2 520.8,241.5 524.7,244.7 519.2,247.0 512.7,245.7Z" fill="#fbe6a0"/>
<path d="M508.5,241.5 514.3,239.2 520.8,241.5 524.7,244.7 519.2,247.0 512.7,245.7Z" fill="none" stroke="#d9c16a" stroke-width="0.4"/>
<path d="M534.3,232.7 536.9,230.8 537.6,232.1 535.3,233.7Z" fill="#fbe6a0"/>
<path d="M534.3,232.7 536.9,230.8 537.6,232.1 535.3,233.7Z" fill="none" stroke="#d9c16a" stroke-width="0.4"/>
<path d="M527.9,250.2 529.2,250.2 529.8,254.4 528.5,254.4Z" fill="#fbe6a0"/>
<path d="M527.9,250.2 529.2,250.2 529.8,254.4 528.5,254.4Z" fill="none" stroke="#d9c16a" stroke-width="0.4"/>
<path d="M504.9,251.3 V253.7 M504.9,252.5 H521.0 M521.0,251.3 V253.7" stroke="#777" stroke-width="0.5" fill="none"/>
<text x="503.8" y="260.0" font-family="Liberation Sans, sans-serif" font-size="5.6" fill="#555">0</text>
<text x="517.5" y="260.0" font-family="Liberation Sans, sans-serif" font-size="5.6" fill="#555">50</text>
<g filter="url(#bl1)"><rect x="545" y="232" width="36" height="29" fill="#1f8485"/><path d="M570.9,230.8 582.2,230.8 582.2,252.1 574.1,249.5 570.9,239.9Z" fill="#bdeac2"/></g>
<path d="M567.6,236.6 570.9,232.7 573.1,238.2 575.1,246.3 577.3,254.4 570.9,256.0 566.0,254.4 564.4,246.3 566.7,241.5Z" fill="#adadad"/>
<path d="M567.6,236.6 570.9,232.7 573.1,238.2 575.1,246.3 577.3,254.4 570.9,256.0 566.0,254.4 564.4,246.3 566.7,241.5Z" fill="none" stroke="#555" stroke-width="0.5"/>
<path d="M551.5,251.6 V254.0 M551.5,252.8 H560.5 M560.5,251.6 V254.0" stroke="#777" stroke-width="0.5" fill="none"/>
<text x="550.0" y="260.3" font-family="Liberation Sans, sans-serif" font-size="5.6" fill="#555">0</text>
<text x="556.5" y="260.3" font-family="Liberation Sans, sans-serif" font-size="5.6" fill="#555">10</text>
<path d="M595.1,238.2 601.6,233.4 608.0,231.8 616.1,232.7 620.9,238.2 617.7,243.1 614.5,249.5 609.6,254.4 604.8,251.2 599.9,246.3 595.7,243.1Z" fill="#adadad"/>
<path d="M621.6,234.0 624.2,232.1 625.5,234.0 622.9,236.0Z" fill="#adadad"/>
<path d="M616.1,257.6 618.4,256.7 618.7,259.2Z" fill="#adadad"/>
<path d="M619.4,251.6 V254.0 M619.4,252.8 H632.3 M632.3,251.6 V254.0" stroke="#777" stroke-width="0.5" fill="none"/>
<text x="618.0" y="260.3" font-family="Liberation Sans, sans-serif" font-size="5.6" fill="#555">0</text>
<text x="626.5" y="260.3" font-family="Liberation Sans, sans-serif" font-size="5.6" fill="#555">200</text>
<defs><linearGradient id="gy" x1="0" y1="0" x2="0" y2="1"><stop offset="0" stop-color="#ffcb05"/><stop offset="0.45" stop-color="#ffcf10"/><stop offset="1" stop-color="#ffd83a" stop-opacity="0"/></linearGradient>
<linearGradient id="gb" x1="0" y1="0" x2="0" y2="1"><stop offset="0" stop-color="#1b4fc4"/><stop offset="1" stop-color="#0a2f8f"/></linearGradient>
<linearGradient id="gs" x1="0" y1="0" x2="1" y2="1"><stop offset="0" stop-color="#9a9a9a"/><stop offset="1" stop-color="#e8e8e8"/></linearGradient></defs>
<path d="M591.2,540.7 L603.2,541.3 L578.7,573 L565.5,573 Z" fill="url(#gy)"/>
<path d="M603.2,541.3 L617,556.8 L605.7,557.4 L597.1,549 Z" fill="url(#gs)"/>
<path d="M611.9,550.2 L633.4,523.8 L645.6,523.8 L618.2,557.1 Z" fill="url(#gb)"/>
<!--/MAP-->
</svg>
<div class="t" id="title">Employment rate, 2024</div>
<div class="t" id="sub">(% of people aged 20–64 years, by NUTS 2 regions)</div>
<div class="t lg" style="left:17px;top:138.8px;">% (EU = 75.8%)</div>
<div class="sw" style="top:154.5px;background:linear-gradient(#27878a,#2e9494);"></div>
<div class="sw" style="top:167.2px;background:linear-gradient(#74c5ad,#85d2b8);"></div>
<div class="sw" style="top:180px;background:linear-gradient(#b4e6bd,#c6efcb);"></div>
<div class="sw" style="top:198.6px;background:linear-gradient(#fde394,#ffeeb0);"></div>
<div class="sw" style="top:211.3px;background:linear-gradient(#dcbc1c,#ead044);"></div>
<div class="sw" style="top:224.4px;background:linear-gradient(#84610a,#9a7410);"></div>
<div class="sw" style="top:243.5px;background:#b3b3b3;"></div>
<div style="position:absolute;left:17px;top:194px;width:95px;height:1px;background:#8a8a8a;"></div>
<div class="t lg" style="left:44px;top:155.8px;letter-spacing:-0.21px;">≥ 83.5</div>
<div class="t lg" style="left:44px;top:168.7px;letter-spacing:-0.21px;">80.5 – &lt; 83.5</div>
<div class="t lg" style="left:44px;top:181.9px;letter-spacing:-0.21px;">78.0 – &lt; 80.5</div>
<div class="t lg" style="left:44px;top:198.8px;letter-spacing:-0.21px;">73.5 – &lt; 78.0</div>
<div class="t lg" style="left:44px;top:212.7px;letter-spacing:-0.21px;">67.0 – &lt; 73.5</div>
<div class="t lg" style="left:44px;top:225.5px;letter-spacing:-0.21px;">&lt; 67.0</div>
<div class="t lg" style="left:41.3px;top:244.8px;letter-spacing:0.13px;">Data not available</div>
<div class="t lg" style="left:117.4px;top:189.7px;letter-spacing:-0.1px;">EU target = 78.0%</div>
<div class="t" id="es">eurostat</div>
<svg style="position:absolute;left:84.5px;top:558px;" width="15.6" height="10.5" viewBox="0 0 15.6 10.5"><rect width="15.6" height="10.5" fill="#0b3d9c"/><g fill="#ffd617"><circle cx="7.8" cy="2" r="0.5"/><circle cx="7.8" cy="8.5" r="0.5"/><circle cx="4.55" cy="5.25" r="0.5"/><circle cx="11.05" cy="5.25" r="0.5"/><circle cx="6.17" cy="2.44" r="0.5"/><circle cx="9.43" cy="2.44" r="0.5"/><circle cx="4.99" cy="3.62" r="0.5"/><circle cx="10.61" cy="3.62" r="0.5"/><circle cx="4.99" cy="6.88" r="0.5"/><circle cx="10.61" cy="6.88" r="0.5"/><circle cx="6.17" cy="8.06" r="0.5"/><circle cx="9.43" cy="8.06" r="0.5"/></g></svg>
<div class="t ft" style="left:16px;top:578.2px;">Note: Prov. Vlaams-Brabant (BE24) and Corse (FRM0), low reliability.</div>
<div class="t ft" style="left:16px;top:589.8px;">Source: Eurostat (online data code: lfst_r_lfe2emprtn)</div>
<div class="t ft2" style="right:9px;top:577.7px;">Administrative boundaries: © EuroGeographics © OpenStreetMap</div>
<div class="t ft2" style="right:9px;top:589.1px;font-size:8.05px;">Cartography: Eurostat – IMAGE, 10/2025</div>
</body></html>
